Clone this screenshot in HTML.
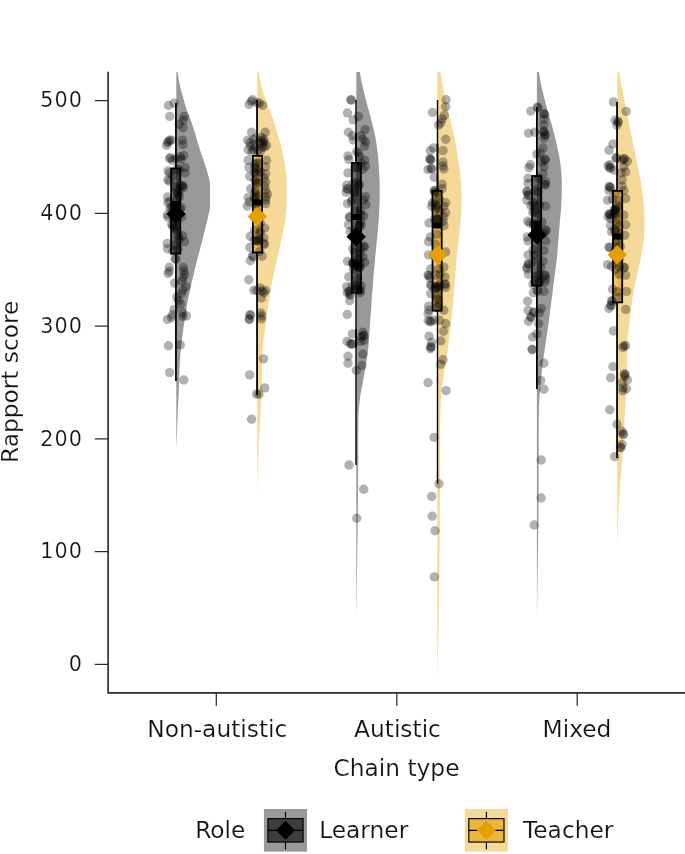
<!DOCTYPE html>
<html lang="en"><head><meta charset="utf-8"><title>Rapport score by chain type</title>
<style>html,body{margin:0;padding:0;background:#fff}svg{display:block}</style></head>
<body>
<svg width="685" height="854" viewBox="0 0 685 854">
<defs><clipPath id="pc"><rect x="108" y="71.8" width="577" height="621"/></clipPath></defs>
<rect width="685" height="854" fill="#fff"/>
<g clip-path="url(#pc)">
<path d="M176.3 72.0L177.6 72.0L177.7 73.0L177.8 74.0L178.0 75.0L178.1 76.0L178.3 77.0L178.5 78.0L178.6 79.0L178.8 80.0L179.0 81.0L179.2 82.0L179.4 83.0L179.6 84.0L179.8 85.0L180.1 86.0L180.3 87.0L180.5 88.0L180.8 89.0L181.0 90.0L181.3 91.0L181.6 92.0L181.8 93.0L182.1 94.0L182.4 95.0L182.7 96.0L182.9 97.0L183.2 98.0L183.5 99.0L183.8 100.0L184.1 101.0L184.4 102.0L184.6 103.0L184.9 104.0L185.2 105.0L185.5 106.0L185.9 107.0L186.2 108.0L186.5 109.0L186.8 110.0L187.2 111.0L187.6 112.0L187.9 113.0L188.3 114.0L188.7 115.0L189.1 116.0L189.5 117.0L189.9 118.0L190.3 119.0L190.7 120.0L191.0 121.0L191.4 122.0L191.7 123.0L192.1 124.0L192.4 125.0L192.8 126.0L193.1 127.0L193.4 128.0L193.7 129.0L194.0 130.0L194.3 131.0L194.7 132.0L195.0 133.0L195.3 134.0L195.6 135.0L195.9 136.0L196.2 137.0L196.5 138.0L196.7 139.0L197.0 140.0L197.3 141.0L197.6 142.0L197.9 143.0L198.2 144.0L198.5 145.0L198.8 146.0L199.1 147.0L199.4 148.0L199.7 149.0L200.0 150.0L200.4 151.0L200.7 152.0L201.1 153.0L201.4 154.0L201.8 155.0L202.1 156.0L202.5 157.0L202.8 158.0L203.1 159.0L203.5 160.0L203.8 161.0L204.1 162.0L204.5 163.0L204.8 164.0L205.1 165.0L205.4 166.0L205.7 167.0L206.1 168.0L206.4 169.0L206.7 170.0L207.0 171.0L207.3 172.0L207.6 173.0L207.9 174.0L208.1 175.0L208.4 176.0L208.6 177.0L208.9 178.0L209.2 179.0L209.4 180.0L209.6 181.0L209.8 182.0L209.9 183.0L210.0 184.0L210.0 185.0L210.0 186.0L210.0 187.0L210.0 188.0L210.0 189.0L210.0 190.0L210.0 191.0L210.0 192.0L210.0 193.0L210.0 194.0L210.0 195.0L210.0 196.0L210.0 197.0L210.0 198.0L210.0 199.0L210.0 200.0L210.0 201.0L210.0 202.0L210.0 203.0L210.0 204.0L210.0 205.0L210.0 206.0L210.0 207.0L209.9 208.0L209.7 209.0L209.6 210.0L209.4 211.0L209.1 212.0L208.9 213.0L208.7 214.0L208.5 215.0L208.2 216.0L208.0 217.0L207.8 218.0L207.5 219.0L207.3 220.0L207.1 221.0L206.8 222.0L206.6 223.0L206.4 224.0L206.1 225.0L205.9 226.0L205.6 227.0L205.4 228.0L205.1 229.0L204.9 230.0L204.6 231.0L204.3 232.0L204.1 233.0L203.8 234.0L203.6 235.0L203.3 236.0L203.1 237.0L202.8 238.0L202.6 239.0L202.3 240.0L202.1 241.0L201.8 242.0L201.6 243.0L201.3 244.0L201.1 245.0L200.8 246.0L200.5 247.0L200.3 248.0L200.0 249.0L199.8 250.0L199.5 251.0L199.2 252.0L199.0 253.0L198.7 254.0L198.4 255.0L198.2 256.0L197.9 257.0L197.6 258.0L197.4 259.0L197.1 260.0L196.9 261.0L196.6 262.0L196.4 263.0L196.1 264.0L195.9 265.0L195.6 266.0L195.4 267.0L195.2 268.0L194.9 269.0L194.7 270.0L194.4 271.0L194.2 272.0L194.0 273.0L193.7 274.0L193.5 275.0L193.2 276.0L193.0 277.0L192.8 278.0L192.5 279.0L192.3 280.0L192.1 281.0L191.8 282.0L191.6 283.0L191.4 284.0L191.2 285.0L190.9 286.0L190.7 287.0L190.5 288.0L190.3 289.0L190.0 290.0L189.8 291.0L189.6 292.0L189.4 293.0L189.2 294.0L189.0 295.0L188.7 296.0L188.5 297.0L188.3 298.0L188.1 299.0L187.9 300.0L187.8 301.0L187.6 302.0L187.4 303.0L187.2 304.0L187.0 305.0L186.8 306.0L186.6 307.0L186.5 308.0L186.3 309.0L186.1 310.0L186.0 311.0L185.8 312.0L185.6 313.0L185.5 314.0L185.3 315.0L185.2 316.0L185.0 317.0L184.9 318.0L184.7 319.0L184.6 320.0L184.4 321.0L184.3 322.0L184.2 323.0L184.0 324.0L183.9 325.0L183.7 326.0L183.6 327.0L183.4 328.0L183.3 329.0L183.2 330.0L183.0 331.0L182.9 332.0L182.8 333.0L182.7 334.0L182.5 335.0L182.4 336.0L182.3 337.0L182.2 338.0L182.1 339.0L181.9 340.0L181.8 341.0L181.7 342.0L181.6 343.0L181.5 344.0L181.4 345.0L181.3 346.0L181.2 347.0L181.1 348.0L181.0 349.0L180.9 350.0L180.8 351.0L180.6 352.0L180.5 353.0L180.4 354.0L180.3 355.0L180.3 356.0L180.2 357.0L180.1 358.0L180.0 359.0L180.0 360.0L179.9 361.0L179.8 362.0L179.8 363.0L179.7 364.0L179.7 365.0L179.6 366.0L179.6 367.0L179.5 368.0L179.5 369.0L179.5 370.0L179.4 371.0L179.4 372.0L179.3 373.0L179.3 374.0L179.3 375.0L179.3 376.0L179.2 377.0L179.2 378.0L179.2 379.0L179.1 380.0L179.1 381.0L179.1 382.0L179.0 383.0L179.0 384.0L179.0 385.0L178.9 386.0L178.9 387.0L178.8 388.0L178.8 389.0L178.8 390.0L178.7 391.0L178.7 392.0L178.6 393.0L178.6 394.0L178.5 395.0L178.5 396.0L178.5 397.0L178.4 398.0L178.4 399.0L178.3 400.0L178.3 401.0L178.2 402.0L178.2 403.0L178.1 404.0L178.1 405.0L178.0 406.0L178.0 407.0L177.9 408.0L177.9 409.0L177.9 410.0L177.8 411.0L177.8 412.0L177.7 413.0L177.7 414.0L177.7 415.0L177.6 416.0L177.6 417.0L177.6 418.0L177.5 419.0L177.5 420.0L177.4 421.0L177.4 422.0L177.4 423.0L177.3 424.0L177.3 425.0L177.3 426.0L177.2 427.0L177.2 428.0L177.1 429.0L177.1 430.0L177.1 431.0L177.0 432.0L177.0 433.0L176.9 434.0L176.9 435.0L176.9 436.0L176.8 437.0L176.8 438.0L176.7 439.0L176.7 440.0L176.6 441.0L176.6 442.0L176.6 443.0L176.5 444.0L176.5 445.0L176.4 446.0L176.4 447.0L176.3 448.0L176.3 448.0Z" fill="#000000" fill-opacity="0.4"/>
<path d="M257.3 72.0L258.8 72.0L258.9 73.0L259.0 74.0L259.2 75.0L259.3 76.0L259.5 77.0L259.7 78.0L259.8 79.0L260.0 80.0L260.2 81.0L260.4 82.0L260.6 83.0L260.8 84.0L261.1 85.0L261.3 86.0L261.5 87.0L261.8 88.0L262.1 89.0L262.4 90.0L262.7 91.0L263.0 92.0L263.3 93.0L263.6 94.0L264.0 95.0L264.3 96.0L264.6 97.0L265.0 98.0L265.3 99.0L265.7 100.0L266.1 101.0L266.5 102.0L266.9 103.0L267.3 104.0L267.7 105.0L268.1 106.0L268.5 107.0L268.9 108.0L269.3 109.0L269.6 110.0L270.0 111.0L270.4 112.0L270.8 113.0L271.1 114.0L271.5 115.0L271.8 116.0L272.2 117.0L272.5 118.0L272.9 119.0L273.2 120.0L273.6 121.0L273.9 122.0L274.2 123.0L274.5 124.0L274.8 125.0L275.1 126.0L275.4 127.0L275.7 128.0L276.0 129.0L276.3 130.0L276.6 131.0L276.9 132.0L277.2 133.0L277.5 134.0L277.8 135.0L278.1 136.0L278.4 137.0L278.7 138.0L279.0 139.0L279.3 140.0L279.7 141.0L280.0 142.0L280.3 143.0L280.6 144.0L280.8 145.0L281.1 146.0L281.3 147.0L281.6 148.0L281.8 149.0L282.0 150.0L282.2 151.0L282.4 152.0L282.6 153.0L282.8 154.0L283.0 155.0L283.2 156.0L283.4 157.0L283.6 158.0L283.8 159.0L283.9 160.0L284.1 161.0L284.3 162.0L284.5 163.0L284.7 164.0L284.8 165.0L285.0 166.0L285.2 167.0L285.3 168.0L285.5 169.0L285.6 170.0L285.7 171.0L285.8 172.0L286.0 173.0L286.1 174.0L286.2 175.0L286.3 176.0L286.4 177.0L286.5 178.0L286.6 179.0L286.6 180.0L286.7 181.0L286.8 182.0L286.8 183.0L286.8 184.0L286.8 185.0L286.8 186.0L286.8 187.0L286.8 188.0L286.8 189.0L286.8 190.0L286.8 191.0L286.8 192.0L286.8 193.0L286.8 194.0L286.8 195.0L286.8 196.0L286.8 197.0L286.8 198.0L286.8 199.0L286.7 200.0L286.7 201.0L286.7 202.0L286.6 203.0L286.6 204.0L286.5 205.0L286.5 206.0L286.4 207.0L286.4 208.0L286.3 209.0L286.2 210.0L286.2 211.0L286.1 212.0L286.0 213.0L285.9 214.0L285.8 215.0L285.7 216.0L285.6 217.0L285.5 218.0L285.4 219.0L285.3 220.0L285.1 221.0L285.0 222.0L284.8 223.0L284.7 224.0L284.5 225.0L284.3 226.0L284.1 227.0L283.8 228.0L283.6 229.0L283.4 230.0L283.2 231.0L283.0 232.0L282.7 233.0L282.5 234.0L282.3 235.0L282.1 236.0L281.9 237.0L281.7 238.0L281.5 239.0L281.3 240.0L281.1 241.0L280.9 242.0L280.7 243.0L280.5 244.0L280.3 245.0L280.1 246.0L279.9 247.0L279.6 248.0L279.4 249.0L279.2 250.0L278.9 251.0L278.7 252.0L278.4 253.0L278.2 254.0L277.9 255.0L277.7 256.0L277.4 257.0L277.2 258.0L277.0 259.0L276.8 260.0L276.6 261.0L276.3 262.0L276.1 263.0L275.9 264.0L275.7 265.0L275.5 266.0L275.3 267.0L275.1 268.0L274.9 269.0L274.7 270.0L274.5 271.0L274.3 272.0L274.1 273.0L273.8 274.0L273.6 275.0L273.4 276.0L273.2 277.0L272.9 278.0L272.7 279.0L272.5 280.0L272.3 281.0L272.1 282.0L271.9 283.0L271.7 284.0L271.5 285.0L271.3 286.0L271.1 287.0L270.9 288.0L270.8 289.0L270.6 290.0L270.5 291.0L270.3 292.0L270.1 293.0L270.0 294.0L269.8 295.0L269.7 296.0L269.5 297.0L269.4 298.0L269.2 299.0L269.1 300.0L268.9 301.0L268.7 302.0L268.6 303.0L268.4 304.0L268.3 305.0L268.1 306.0L268.0 307.0L267.8 308.0L267.7 309.0L267.5 310.0L267.4 311.0L267.3 312.0L267.1 313.0L267.0 314.0L266.8 315.0L266.7 316.0L266.6 317.0L266.4 318.0L266.3 319.0L266.2 320.0L266.0 321.0L265.9 322.0L265.8 323.0L265.6 324.0L265.5 325.0L265.4 326.0L265.2 327.0L265.1 328.0L265.0 329.0L264.9 330.0L264.7 331.0L264.6 332.0L264.5 333.0L264.4 334.0L264.2 335.0L264.1 336.0L263.9 337.0L263.8 338.0L263.7 339.0L263.5 340.0L263.4 341.0L263.2 342.0L263.1 343.0L263.0 344.0L262.9 345.0L262.8 346.0L262.7 347.0L262.6 348.0L262.5 349.0L262.5 350.0L262.4 351.0L262.3 352.0L262.3 353.0L262.2 354.0L262.2 355.0L262.1 356.0L262.1 357.0L262.0 358.0L262.0 359.0L262.0 360.0L262.0 361.0L261.9 362.0L261.9 363.0L261.9 364.0L261.9 365.0L261.9 366.0L261.8 367.0L261.8 368.0L261.8 369.0L261.8 370.0L261.8 371.0L261.8 372.0L261.8 373.0L261.8 374.0L261.8 375.0L261.8 376.0L261.8 377.0L261.8 378.0L261.8 379.0L261.8 380.0L261.8 381.0L261.8 382.0L261.8 383.0L261.8 384.0L261.8 385.0L261.8 386.0L261.8 387.0L261.8 388.0L261.7 389.0L261.7 390.0L261.7 391.0L261.6 392.0L261.6 393.0L261.6 394.0L261.6 395.0L261.5 396.0L261.5 397.0L261.4 398.0L261.4 399.0L261.3 400.0L261.3 401.0L261.2 402.0L261.2 403.0L261.1 404.0L261.0 405.0L261.0 406.0L260.9 407.0L260.9 408.0L260.8 409.0L260.7 410.0L260.7 411.0L260.6 412.0L260.6 413.0L260.5 414.0L260.5 415.0L260.4 416.0L260.3 417.0L260.3 418.0L260.2 419.0L260.2 420.0L260.1 421.0L260.0 422.0L260.0 423.0L259.9 424.0L259.9 425.0L259.8 426.0L259.7 427.0L259.7 428.0L259.6 429.0L259.5 430.0L259.5 431.0L259.4 432.0L259.4 433.0L259.3 434.0L259.2 435.0L259.2 436.0L259.1 437.0L259.1 438.0L259.0 439.0L259.0 440.0L258.9 441.0L258.9 442.0L258.8 443.0L258.8 444.0L258.7 445.0L258.7 446.0L258.6 447.0L258.6 448.0L258.5 449.0L258.5 450.0L258.5 451.0L258.4 452.0L258.4 453.0L258.3 454.0L258.3 455.0L258.3 456.0L258.2 457.0L258.2 458.0L258.2 459.0L258.1 460.0L258.1 461.0L258.1 462.0L258.0 463.0L258.0 464.0L258.0 465.0L257.9 466.0L257.9 467.0L257.9 468.0L257.9 469.0L257.8 470.0L257.8 471.0L257.8 472.0L257.8 473.0L257.7 474.0L257.7 475.0L257.7 476.0L257.7 477.0L257.6 478.0L257.6 479.0L257.6 480.0L257.6 481.0L257.6 482.0L257.5 483.0L257.5 484.0L257.5 485.0L257.5 486.0L257.5 487.0L257.4 488.0L257.4 489.0L257.4 490.0L257.4 491.0L257.4 492.0L257.4 493.0L257.3 494.0L257.3 495.0L257.3 496.0L257.3 497.0L257.3 498.0L257.3 498.0Z" fill="#E69F00" fill-opacity="0.4"/>
<path d="M356.3 72.0L359.9 72.0L360.0 73.0L360.2 74.0L360.3 75.0L360.5 76.0L360.7 77.0L360.9 78.0L361.1 79.0L361.3 80.0L361.5 81.0L361.7 82.0L361.9 83.0L362.1 84.0L362.3 85.0L362.6 86.0L362.8 87.0L363.0 88.0L363.2 89.0L363.5 90.0L363.7 91.0L363.9 92.0L364.2 93.0L364.4 94.0L364.7 95.0L364.9 96.0L365.2 97.0L365.4 98.0L365.7 99.0L365.9 100.0L366.2 101.0L366.4 102.0L366.7 103.0L367.0 104.0L367.3 105.0L367.5 106.0L367.8 107.0L368.1 108.0L368.3 109.0L368.6 110.0L368.9 111.0L369.1 112.0L369.4 113.0L369.7 114.0L370.0 115.0L370.2 116.0L370.5 117.0L370.8 118.0L371.0 119.0L371.3 120.0L371.5 121.0L371.8 122.0L372.1 123.0L372.3 124.0L372.6 125.0L372.8 126.0L373.1 127.0L373.3 128.0L373.6 129.0L373.8 130.0L374.1 131.0L374.3 132.0L374.5 133.0L374.7 134.0L374.9 135.0L375.1 136.0L375.3 137.0L375.5 138.0L375.7 139.0L375.8 140.0L376.0 141.0L376.2 142.0L376.3 143.0L376.5 144.0L376.6 145.0L376.8 146.0L376.9 147.0L377.1 148.0L377.2 149.0L377.3 150.0L377.4 151.0L377.6 152.0L377.7 153.0L377.8 154.0L377.9 155.0L378.0 156.0L378.1 157.0L378.2 158.0L378.3 159.0L378.4 160.0L378.4 161.0L378.5 162.0L378.6 163.0L378.7 164.0L378.7 165.0L378.8 166.0L378.8 167.0L378.9 168.0L379.0 169.0L379.0 170.0L379.1 171.0L379.1 172.0L379.2 173.0L379.2 174.0L379.3 175.0L379.4 176.0L379.4 177.0L379.5 178.0L379.5 179.0L379.6 180.0L379.6 181.0L379.7 182.0L379.7 183.0L379.7 184.0L379.7 185.0L379.7 186.0L379.7 187.0L379.7 188.0L379.7 189.0L379.7 190.0L379.7 191.0L379.7 192.0L379.7 193.0L379.7 194.0L379.7 195.0L379.7 196.0L379.7 197.0L379.7 198.0L379.7 199.0L379.6 200.0L379.6 201.0L379.6 202.0L379.6 203.0L379.5 204.0L379.5 205.0L379.4 206.0L379.4 207.0L379.3 208.0L379.3 209.0L379.3 210.0L379.2 211.0L379.2 212.0L379.1 213.0L379.1 214.0L379.0 215.0L378.9 216.0L378.9 217.0L378.8 218.0L378.8 219.0L378.7 220.0L378.6 221.0L378.5 222.0L378.5 223.0L378.4 224.0L378.3 225.0L378.2 226.0L378.1 227.0L378.0 228.0L377.9 229.0L377.9 230.0L377.8 231.0L377.7 232.0L377.6 233.0L377.5 234.0L377.4 235.0L377.3 236.0L377.2 237.0L377.1 238.0L377.0 239.0L376.9 240.0L376.8 241.0L376.7 242.0L376.6 243.0L376.5 244.0L376.4 245.0L376.3 246.0L376.2 247.0L376.1 248.0L376.0 249.0L375.9 250.0L375.8 251.0L375.7 252.0L375.6 253.0L375.5 254.0L375.4 255.0L375.3 256.0L375.2 257.0L375.1 258.0L375.1 259.0L375.0 260.0L374.9 261.0L374.8 262.0L374.7 263.0L374.6 264.0L374.5 265.0L374.4 266.0L374.3 267.0L374.2 268.0L374.1 269.0L374.0 270.0L373.9 271.0L373.8 272.0L373.7 273.0L373.7 274.0L373.6 275.0L373.5 276.0L373.5 277.0L373.4 278.0L373.3 279.0L373.2 280.0L373.2 281.0L373.1 282.0L373.0 283.0L373.0 284.0L372.9 285.0L372.8 286.0L372.7 287.0L372.6 288.0L372.6 289.0L372.5 290.0L372.4 291.0L372.3 292.0L372.2 293.0L372.1 294.0L372.1 295.0L372.0 296.0L371.9 297.0L371.8 298.0L371.8 299.0L371.7 300.0L371.6 301.0L371.6 302.0L371.5 303.0L371.5 304.0L371.4 305.0L371.3 306.0L371.3 307.0L371.2 308.0L371.1 309.0L371.1 310.0L371.0 311.0L370.9 312.0L370.8 313.0L370.8 314.0L370.7 315.0L370.6 316.0L370.5 317.0L370.4 318.0L370.3 319.0L370.3 320.0L370.2 321.0L370.1 322.0L370.0 323.0L370.0 324.0L369.9 325.0L369.8 326.0L369.8 327.0L369.7 328.0L369.7 329.0L369.6 330.0L369.5 331.0L369.5 332.0L369.4 333.0L369.3 334.0L369.3 335.0L369.2 336.0L369.1 337.0L369.0 338.0L369.0 339.0L368.9 340.0L368.8 341.0L368.7 342.0L368.6 343.0L368.6 344.0L368.5 345.0L368.4 346.0L368.3 347.0L368.2 348.0L368.1 349.0L367.9 350.0L367.8 351.0L367.7 352.0L367.6 353.0L367.4 354.0L367.3 355.0L367.2 356.0L367.0 357.0L366.9 358.0L366.7 359.0L366.6 360.0L366.4 361.0L366.3 362.0L366.1 363.0L366.0 364.0L365.8 365.0L365.6 366.0L365.5 367.0L365.3 368.0L365.1 369.0L365.0 370.0L364.8 371.0L364.6 372.0L364.5 373.0L364.3 374.0L364.1 375.0L363.9 376.0L363.8 377.0L363.6 378.0L363.4 379.0L363.2 380.0L363.0 381.0L362.9 382.0L362.7 383.0L362.5 384.0L362.3 385.0L362.1 386.0L361.9 387.0L361.7 388.0L361.5 389.0L361.3 390.0L361.1 391.0L360.9 392.0L360.8 393.0L360.6 394.0L360.4 395.0L360.3 396.0L360.1 397.0L360.0 398.0L359.9 399.0L359.8 400.0L359.6 401.0L359.5 402.0L359.4 403.0L359.3 404.0L359.2 405.0L359.1 406.0L359.0 407.0L359.0 408.0L358.9 409.0L358.8 410.0L358.8 411.0L358.7 412.0L358.6 413.0L358.6 414.0L358.5 415.0L358.5 416.0L358.4 417.0L358.4 418.0L358.4 419.0L358.3 420.0L358.3 421.0L358.3 422.0L358.3 423.0L358.3 424.0L358.3 425.0L358.3 426.0L358.3 427.0L358.2 428.0L358.2 429.0L358.2 430.0L358.2 431.0L358.2 432.0L358.2 433.0L358.2 434.0L358.2 435.0L358.2 436.0L358.2 437.0L358.2 438.0L358.2 439.0L358.2 440.0L358.2 441.0L358.2 442.0L358.2 443.0L358.2 444.0L358.2 445.0L358.2 446.0L358.2 447.0L358.2 448.0L358.2 449.0L358.2 450.0L358.2 451.0L358.2 452.0L358.2 453.0L358.2 454.0L358.2 455.0L358.2 456.0L358.2 457.0L358.2 458.0L358.2 459.0L358.2 460.0L358.2 461.0L358.2 462.0L358.2 463.0L358.2 464.0L358.1 465.0L358.1 466.0L358.1 467.0L358.1 468.0L358.1 469.0L358.1 470.0L358.1 471.0L358.1 472.0L358.1 473.0L358.1 474.0L358.1 475.0L358.1 476.0L358.1 477.0L358.1 478.0L358.1 479.0L358.1 480.0L358.1 481.0L358.1 482.0L358.1 483.0L358.1 484.0L358.1 485.0L358.1 486.0L358.1 487.0L358.1 488.0L358.1 489.0L358.1 490.0L358.1 491.0L358.1 492.0L358.0 493.0L358.0 494.0L358.0 495.0L358.0 496.0L358.0 497.0L358.0 498.0L358.0 499.0L358.0 500.0L358.0 501.0L358.0 502.0L357.9 503.0L357.9 504.0L357.9 505.0L357.9 506.0L357.9 507.0L357.9 508.0L357.9 509.0L357.9 510.0L357.8 511.0L357.8 512.0L357.8 513.0L357.8 514.0L357.8 515.0L357.8 516.0L357.8 517.0L357.7 518.0L357.7 519.0L357.7 520.0L357.7 521.0L357.7 522.0L357.7 523.0L357.7 524.0L357.7 525.0L357.7 526.0L357.6 527.0L357.6 528.0L357.6 529.0L357.6 530.0L357.6 531.0L357.6 532.0L357.6 533.0L357.6 534.0L357.5 535.0L357.5 536.0L357.5 537.0L357.5 538.0L357.5 539.0L357.5 540.0L357.5 541.0L357.4 542.0L357.4 543.0L357.4 544.0L357.4 545.0L357.4 546.0L357.4 547.0L357.4 548.0L357.4 549.0L357.3 550.0L357.3 551.0L357.3 552.0L357.3 553.0L357.3 554.0L357.3 555.0L357.3 556.0L357.2 557.0L357.2 558.0L357.2 559.0L357.2 560.0L357.2 561.0L357.2 562.0L357.2 563.0L357.1 564.0L357.1 565.0L357.1 566.0L357.1 567.0L357.1 568.0L357.1 569.0L357.1 570.0L357.0 571.0L357.0 572.0L357.0 573.0L357.0 574.0L357.0 575.0L357.0 576.0L357.0 577.0L356.9 578.0L356.9 579.0L356.9 580.0L356.9 581.0L356.9 582.0L356.9 583.0L356.8 584.0L356.8 585.0L356.8 586.0L356.8 587.0L356.8 588.0L356.8 589.0L356.7 590.0L356.7 591.0L356.7 592.0L356.7 593.0L356.7 594.0L356.7 595.0L356.7 596.0L356.6 597.0L356.6 598.0L356.6 599.0L356.6 600.0L356.6 601.0L356.5 602.0L356.5 603.0L356.5 604.0L356.5 605.0L356.5 606.0L356.5 607.0L356.4 608.0L356.4 609.0L356.4 610.0L356.4 611.0L356.4 612.0L356.4 613.0L356.3 614.0L356.3 615.0L356.3 616.0L356.3 616.0Z" fill="#000000" fill-opacity="0.4"/>
<path d="M437.3 72.0L440.5 72.0L440.6 73.0L440.8 74.0L440.9 75.0L441.1 76.0L441.2 77.0L441.4 78.0L441.5 79.0L441.7 80.0L441.9 81.0L442.0 82.0L442.2 83.0L442.4 84.0L442.5 85.0L442.7 86.0L442.9 87.0L443.1 88.0L443.3 89.0L443.5 90.0L443.7 91.0L443.9 92.0L444.1 93.0L444.3 94.0L444.5 95.0L444.7 96.0L445.0 97.0L445.2 98.0L445.4 99.0L445.6 100.0L445.9 101.0L446.1 102.0L446.4 103.0L446.6 104.0L446.9 105.0L447.1 106.0L447.4 107.0L447.6 108.0L447.9 109.0L448.1 110.0L448.3 111.0L448.5 112.0L448.8 113.0L449.0 114.0L449.2 115.0L449.4 116.0L449.6 117.0L449.8 118.0L450.0 119.0L450.3 120.0L450.5 121.0L450.7 122.0L450.9 123.0L451.2 124.0L451.4 125.0L451.7 126.0L451.9 127.0L452.2 128.0L452.4 129.0L452.7 130.0L452.9 131.0L453.1 132.0L453.4 133.0L453.6 134.0L453.8 135.0L454.0 136.0L454.3 137.0L454.5 138.0L454.7 139.0L454.9 140.0L455.1 141.0L455.3 142.0L455.5 143.0L455.7 144.0L455.9 145.0L456.1 146.0L456.2 147.0L456.4 148.0L456.6 149.0L456.7 150.0L456.9 151.0L457.0 152.0L457.2 153.0L457.3 154.0L457.5 155.0L457.6 156.0L457.8 157.0L457.9 158.0L458.1 159.0L458.2 160.0L458.4 161.0L458.5 162.0L458.7 163.0L458.8 164.0L459.0 165.0L459.1 166.0L459.3 167.0L459.4 168.0L459.6 169.0L459.7 170.0L459.8 171.0L459.9 172.0L460.1 173.0L460.2 174.0L460.3 175.0L460.4 176.0L460.5 177.0L460.6 178.0L460.7 179.0L460.8 180.0L460.9 181.0L461.0 182.0L461.0 183.0L461.1 184.0L461.2 185.0L461.2 186.0L461.3 187.0L461.3 188.0L461.4 189.0L461.4 190.0L461.5 191.0L461.5 192.0L461.5 193.0L461.6 194.0L461.6 195.0L461.6 196.0L461.6 197.0L461.6 198.0L461.6 199.0L461.6 200.0L461.5 201.0L461.5 202.0L461.5 203.0L461.5 204.0L461.4 205.0L461.4 206.0L461.4 207.0L461.3 208.0L461.3 209.0L461.3 210.0L461.2 211.0L461.2 212.0L461.1 213.0L461.0 214.0L461.0 215.0L460.9 216.0L460.8 217.0L460.8 218.0L460.7 219.0L460.6 220.0L460.5 221.0L460.4 222.0L460.4 223.0L460.3 224.0L460.2 225.0L460.1 226.0L460.0 227.0L459.9 228.0L459.8 229.0L459.7 230.0L459.6 231.0L459.5 232.0L459.4 233.0L459.3 234.0L459.2 235.0L459.0 236.0L458.9 237.0L458.8 238.0L458.7 239.0L458.6 240.0L458.5 241.0L458.4 242.0L458.2 243.0L458.1 244.0L458.0 245.0L457.9 246.0L457.8 247.0L457.7 248.0L457.6 249.0L457.5 250.0L457.4 251.0L457.3 252.0L457.2 253.0L457.1 254.0L457.0 255.0L456.9 256.0L456.8 257.0L456.7 258.0L456.7 259.0L456.6 260.0L456.5 261.0L456.4 262.0L456.3 263.0L456.3 264.0L456.2 265.0L456.1 266.0L456.0 267.0L455.9 268.0L455.9 269.0L455.8 270.0L455.7 271.0L455.6 272.0L455.5 273.0L455.4 274.0L455.4 275.0L455.3 276.0L455.2 277.0L455.1 278.0L455.0 279.0L454.9 280.0L454.8 281.0L454.7 282.0L454.7 283.0L454.6 284.0L454.5 285.0L454.4 286.0L454.3 287.0L454.2 288.0L454.2 289.0L454.1 290.0L454.0 291.0L453.9 292.0L453.8 293.0L453.8 294.0L453.7 295.0L453.6 296.0L453.5 297.0L453.4 298.0L453.3 299.0L453.2 300.0L453.1 301.0L453.1 302.0L453.0 303.0L452.9 304.0L452.8 305.0L452.7 306.0L452.6 307.0L452.5 308.0L452.4 309.0L452.3 310.0L452.2 311.0L452.1 312.0L452.0 313.0L451.9 314.0L451.8 315.0L451.7 316.0L451.6 317.0L451.5 318.0L451.4 319.0L451.3 320.0L451.2 321.0L451.1 322.0L451.0 323.0L450.9 324.0L450.8 325.0L450.7 326.0L450.6 327.0L450.4 328.0L450.3 329.0L450.2 330.0L450.1 331.0L450.0 332.0L449.9 333.0L449.7 334.0L449.6 335.0L449.5 336.0L449.4 337.0L449.3 338.0L449.1 339.0L449.0 340.0L448.9 341.0L448.7 342.0L448.6 343.0L448.5 344.0L448.3 345.0L448.2 346.0L448.1 347.0L447.9 348.0L447.8 349.0L447.7 350.0L447.5 351.0L447.4 352.0L447.2 353.0L447.1 354.0L446.9 355.0L446.8 356.0L446.6 357.0L446.5 358.0L446.3 359.0L446.2 360.0L446.0 361.0L445.9 362.0L445.7 363.0L445.5 364.0L445.4 365.0L445.2 366.0L445.0 367.0L444.9 368.0L444.7 369.0L444.6 370.0L444.4 371.0L444.2 372.0L444.1 373.0L443.9 374.0L443.8 375.0L443.6 376.0L443.5 377.0L443.3 378.0L443.2 379.0L443.0 380.0L442.9 381.0L442.8 382.0L442.6 383.0L442.5 384.0L442.4 385.0L442.3 386.0L442.1 387.0L442.0 388.0L441.9 389.0L441.8 390.0L441.7 391.0L441.6 392.0L441.5 393.0L441.4 394.0L441.3 395.0L441.2 396.0L441.2 397.0L441.1 398.0L441.0 399.0L441.0 400.0L440.9 401.0L440.8 402.0L440.8 403.0L440.7 404.0L440.7 405.0L440.6 406.0L440.6 407.0L440.5 408.0L440.5 409.0L440.5 410.0L440.4 411.0L440.4 412.0L440.3 413.0L440.3 414.0L440.3 415.0L440.2 416.0L440.2 417.0L440.2 418.0L440.2 419.0L440.1 420.0L440.1 421.0L440.1 422.0L440.1 423.0L440.0 424.0L440.0 425.0L440.0 426.0L440.0 427.0L440.0 428.0L439.9 429.0L439.9 430.0L439.9 431.0L439.9 432.0L439.9 433.0L439.9 434.0L439.9 435.0L439.9 436.0L439.9 437.0L439.9 438.0L439.9 439.0L439.9 440.0L439.9 441.0L439.9 442.0L439.9 443.0L439.9 444.0L439.9 445.0L439.9 446.0L439.9 447.0L439.9 448.0L439.9 449.0L439.9 450.0L439.9 451.0L439.9 452.0L439.9 453.0L439.9 454.0L439.9 455.0L439.9 456.0L439.9 457.0L439.9 458.0L439.9 459.0L439.9 460.0L439.9 461.0L439.9 462.0L439.9 463.0L439.9 464.0L439.9 465.0L439.9 466.0L439.9 467.0L439.9 468.0L439.9 469.0L439.9 470.0L439.9 471.0L439.9 472.0L439.9 473.0L439.9 474.0L439.9 475.0L439.9 476.0L439.9 477.0L439.9 478.0L439.9 479.0L439.9 480.0L439.9 481.0L439.9 482.0L439.9 483.0L439.9 484.0L439.9 485.0L439.9 486.0L439.9 487.0L439.9 488.0L439.9 489.0L439.9 490.0L439.9 491.0L439.9 492.0L439.9 493.0L439.9 494.0L439.9 495.0L439.9 496.0L439.9 497.0L439.9 498.0L439.9 499.0L439.9 500.0L439.9 501.0L439.9 502.0L439.9 503.0L439.9 504.0L439.9 505.0L439.9 506.0L439.8 507.0L439.8 508.0L439.8 509.0L439.8 510.0L439.8 511.0L439.8 512.0L439.8 513.0L439.8 514.0L439.8 515.0L439.8 516.0L439.8 517.0L439.8 518.0L439.8 519.0L439.8 520.0L439.8 521.0L439.8 522.0L439.8 523.0L439.8 524.0L439.8 525.0L439.8 526.0L439.7 527.0L439.7 528.0L439.7 529.0L439.7 530.0L439.7 531.0L439.7 532.0L439.7 533.0L439.7 534.0L439.7 535.0L439.7 536.0L439.7 537.0L439.7 538.0L439.7 539.0L439.7 540.0L439.7 541.0L439.7 542.0L439.6 543.0L439.6 544.0L439.6 545.0L439.6 546.0L439.6 547.0L439.6 548.0L439.6 549.0L439.6 550.0L439.6 551.0L439.6 552.0L439.6 553.0L439.5 554.0L439.5 555.0L439.5 556.0L439.5 557.0L439.5 558.0L439.5 559.0L439.5 560.0L439.5 561.0L439.5 562.0L439.5 563.0L439.4 564.0L439.4 565.0L439.4 566.0L439.4 567.0L439.4 568.0L439.4 569.0L439.4 570.0L439.4 571.0L439.3 572.0L439.3 573.0L439.3 574.0L439.3 575.0L439.3 576.0L439.3 577.0L439.3 578.0L439.3 579.0L439.2 580.0L439.2 581.0L439.2 582.0L439.2 583.0L439.2 584.0L439.2 585.0L439.2 586.0L439.2 587.0L439.1 588.0L439.1 589.0L439.1 590.0L439.1 591.0L439.1 592.0L439.1 593.0L439.1 594.0L439.1 595.0L439.0 596.0L439.0 597.0L439.0 598.0L439.0 599.0L439.0 600.0L439.0 601.0L439.0 602.0L438.9 603.0L438.9 604.0L438.9 605.0L438.9 606.0L438.9 607.0L438.9 608.0L438.8 609.0L438.8 610.0L438.8 611.0L438.8 612.0L438.8 613.0L438.8 614.0L438.7 615.0L438.7 616.0L438.7 617.0L438.7 618.0L438.7 619.0L438.7 620.0L438.6 621.0L438.6 622.0L438.6 623.0L438.6 624.0L438.6 625.0L438.6 626.0L438.5 627.0L438.5 628.0L438.5 629.0L438.5 630.0L438.5 631.0L438.4 632.0L438.4 633.0L438.4 634.0L438.4 635.0L438.4 636.0L438.3 637.0L438.3 638.0L438.3 639.0L438.3 640.0L438.3 641.0L438.2 642.0L438.2 643.0L438.2 644.0L438.2 645.0L438.1 646.0L438.1 647.0L438.1 648.0L438.1 649.0L438.1 650.0L438.0 651.0L438.0 652.0L438.0 653.0L438.0 654.0L437.9 655.0L437.9 656.0L437.9 657.0L437.9 658.0L437.8 659.0L437.8 660.0L437.8 661.0L437.7 662.0L437.7 663.0L437.7 664.0L437.7 665.0L437.6 666.0L437.6 667.0L437.6 668.0L437.5 669.0L437.5 670.0L437.5 671.0L437.4 672.0L437.4 673.0L437.4 674.0L437.3 675.0L437.3 676.0L437.3 676.0Z" fill="#E69F00" fill-opacity="0.4"/>
<path d="M536.9 72.0L539.0 72.0L539.1 73.0L539.2 74.0L539.3 75.0L539.5 76.0L539.7 77.0L539.8 78.0L540.0 79.0L540.2 80.0L540.4 81.0L540.6 82.0L540.7 83.0L540.9 84.0L541.1 85.0L541.4 86.0L541.6 87.0L541.8 88.0L542.0 89.0L542.3 90.0L542.5 91.0L542.8 92.0L543.0 93.0L543.3 94.0L543.5 95.0L543.8 96.0L544.0 97.0L544.3 98.0L544.5 99.0L544.8 100.0L545.1 101.0L545.3 102.0L545.6 103.0L545.8 104.0L546.1 105.0L546.3 106.0L546.6 107.0L546.9 108.0L547.1 109.0L547.4 110.0L547.7 111.0L548.0 112.0L548.3 113.0L548.6 114.0L548.9 115.0L549.2 116.0L549.5 117.0L549.8 118.0L550.1 119.0L550.4 120.0L550.7 121.0L551.0 122.0L551.3 123.0L551.6 124.0L551.8 125.0L552.1 126.0L552.4 127.0L552.6 128.0L552.9 129.0L553.2 130.0L553.4 131.0L553.7 132.0L553.9 133.0L554.2 134.0L554.4 135.0L554.7 136.0L554.9 137.0L555.2 138.0L555.4 139.0L555.7 140.0L555.9 141.0L556.1 142.0L556.4 143.0L556.6 144.0L556.8 145.0L557.0 146.0L557.2 147.0L557.5 148.0L557.7 149.0L557.9 150.0L558.1 151.0L558.3 152.0L558.5 153.0L558.8 154.0L559.0 155.0L559.1 156.0L559.3 157.0L559.5 158.0L559.7 159.0L559.8 160.0L560.0 161.0L560.1 162.0L560.3 163.0L560.4 164.0L560.5 165.0L560.6 166.0L560.8 167.0L560.9 168.0L561.0 169.0L561.1 170.0L561.2 171.0L561.2 172.0L561.3 173.0L561.4 174.0L561.4 175.0L561.5 176.0L561.6 177.0L561.6 178.0L561.7 179.0L561.7 180.0L561.7 181.0L561.8 182.0L561.8 183.0L561.8 184.0L561.8 185.0L561.8 186.0L561.8 187.0L561.8 188.0L561.8 189.0L561.7 190.0L561.7 191.0L561.7 192.0L561.7 193.0L561.7 194.0L561.6 195.0L561.6 196.0L561.6 197.0L561.6 198.0L561.5 199.0L561.5 200.0L561.4 201.0L561.4 202.0L561.3 203.0L561.3 204.0L561.2 205.0L561.2 206.0L561.1 207.0L561.1 208.0L561.0 209.0L560.9 210.0L560.8 211.0L560.8 212.0L560.7 213.0L560.6 214.0L560.5 215.0L560.4 216.0L560.3 217.0L560.2 218.0L560.1 219.0L560.0 220.0L559.9 221.0L559.8 222.0L559.8 223.0L559.7 224.0L559.6 225.0L559.5 226.0L559.4 227.0L559.4 228.0L559.3 229.0L559.2 230.0L559.1 231.0L559.0 232.0L559.0 233.0L558.9 234.0L558.8 235.0L558.7 236.0L558.6 237.0L558.6 238.0L558.5 239.0L558.4 240.0L558.3 241.0L558.2 242.0L558.2 243.0L558.1 244.0L558.0 245.0L557.9 246.0L557.8 247.0L557.8 248.0L557.7 249.0L557.6 250.0L557.5 251.0L557.5 252.0L557.4 253.0L557.3 254.0L557.2 255.0L557.1 256.0L557.0 257.0L556.9 258.0L556.8 259.0L556.7 260.0L556.6 261.0L556.5 262.0L556.4 263.0L556.2 264.0L556.1 265.0L556.0 266.0L555.8 267.0L555.7 268.0L555.6 269.0L555.4 270.0L555.3 271.0L555.2 272.0L555.0 273.0L554.9 274.0L554.8 275.0L554.6 276.0L554.5 277.0L554.4 278.0L554.3 279.0L554.1 280.0L554.0 281.0L553.9 282.0L553.7 283.0L553.6 284.0L553.5 285.0L553.3 286.0L553.2 287.0L553.1 288.0L553.0 289.0L552.8 290.0L552.7 291.0L552.6 292.0L552.4 293.0L552.3 294.0L552.2 295.0L552.1 296.0L551.9 297.0L551.8 298.0L551.7 299.0L551.5 300.0L551.4 301.0L551.3 302.0L551.2 303.0L551.0 304.0L550.9 305.0L550.8 306.0L550.6 307.0L550.5 308.0L550.4 309.0L550.2 310.0L550.1 311.0L550.0 312.0L549.9 313.0L549.7 314.0L549.6 315.0L549.5 316.0L549.4 317.0L549.2 318.0L549.1 319.0L549.0 320.0L548.8 321.0L548.7 322.0L548.6 323.0L548.4 324.0L548.3 325.0L548.1 326.0L548.0 327.0L547.8 328.0L547.7 329.0L547.5 330.0L547.4 331.0L547.3 332.0L547.1 333.0L547.0 334.0L546.8 335.0L546.7 336.0L546.5 337.0L546.4 338.0L546.2 339.0L546.1 340.0L545.9 341.0L545.8 342.0L545.7 343.0L545.5 344.0L545.4 345.0L545.2 346.0L545.1 347.0L544.9 348.0L544.8 349.0L544.6 350.0L544.5 351.0L544.3 352.0L544.2 353.0L544.0 354.0L543.9 355.0L543.8 356.0L543.6 357.0L543.5 358.0L543.3 359.0L543.2 360.0L543.0 361.0L542.9 362.0L542.8 363.0L542.6 364.0L542.5 365.0L542.4 366.0L542.2 367.0L542.1 368.0L542.0 369.0L541.9 370.0L541.8 371.0L541.7 372.0L541.6 373.0L541.5 374.0L541.4 375.0L541.4 376.0L541.3 377.0L541.2 378.0L541.2 379.0L541.1 380.0L541.0 381.0L541.0 382.0L540.9 383.0L540.8 384.0L540.7 385.0L540.6 386.0L540.5 387.0L540.4 388.0L540.3 389.0L540.1 390.0L540.0 391.0L539.9 392.0L539.8 393.0L539.7 394.0L539.6 395.0L539.5 396.0L539.5 397.0L539.4 398.0L539.3 399.0L539.3 400.0L539.2 401.0L539.2 402.0L539.1 403.0L539.1 404.0L539.0 405.0L539.0 406.0L538.9 407.0L538.9 408.0L538.9 409.0L538.9 410.0L538.9 411.0L538.9 412.0L538.9 413.0L538.8 414.0L538.8 415.0L538.8 416.0L538.8 417.0L538.8 418.0L538.8 419.0L538.8 420.0L538.8 421.0L538.8 422.0L538.8 423.0L538.8 424.0L538.8 425.0L538.8 426.0L538.8 427.0L538.7 428.0L538.7 429.0L538.7 430.0L538.7 431.0L538.7 432.0L538.7 433.0L538.7 434.0L538.7 435.0L538.7 436.0L538.7 437.0L538.7 438.0L538.7 439.0L538.7 440.0L538.7 441.0L538.7 442.0L538.7 443.0L538.7 444.0L538.7 445.0L538.7 446.0L538.7 447.0L538.7 448.0L538.7 449.0L538.7 450.0L538.7 451.0L538.7 452.0L538.7 453.0L538.7 454.0L538.7 455.0L538.7 456.0L538.7 457.0L538.7 458.0L538.7 459.0L538.7 460.0L538.7 461.0L538.7 462.0L538.7 463.0L538.6 464.0L538.6 465.0L538.6 466.0L538.6 467.0L538.6 468.0L538.6 469.0L538.6 470.0L538.6 471.0L538.6 472.0L538.6 473.0L538.6 474.0L538.6 475.0L538.6 476.0L538.6 477.0L538.6 478.0L538.6 479.0L538.6 480.0L538.6 481.0L538.6 482.0L538.6 483.0L538.6 484.0L538.6 485.0L538.6 486.0L538.6 487.0L538.6 488.0L538.6 489.0L538.6 490.0L538.6 491.0L538.6 492.0L538.6 493.0L538.6 494.0L538.5 495.0L538.5 496.0L538.5 497.0L538.5 498.0L538.5 499.0L538.5 500.0L538.5 501.0L538.5 502.0L538.5 503.0L538.5 504.0L538.5 505.0L538.5 506.0L538.4 507.0L538.4 508.0L538.4 509.0L538.4 510.0L538.4 511.0L538.4 512.0L538.4 513.0L538.4 514.0L538.4 515.0L538.4 516.0L538.4 517.0L538.3 518.0L538.3 519.0L538.3 520.0L538.3 521.0L538.3 522.0L538.3 523.0L538.3 524.0L538.3 525.0L538.3 526.0L538.2 527.0L538.2 528.0L538.2 529.0L538.2 530.0L538.2 531.0L538.2 532.0L538.2 533.0L538.2 534.0L538.1 535.0L538.1 536.0L538.1 537.0L538.1 538.0L538.1 539.0L538.1 540.0L538.1 541.0L538.1 542.0L538.0 543.0L538.0 544.0L538.0 545.0L538.0 546.0L538.0 547.0L538.0 548.0L538.0 549.0L537.9 550.0L537.9 551.0L537.9 552.0L537.9 553.0L537.9 554.0L537.9 555.0L537.9 556.0L537.8 557.0L537.8 558.0L537.8 559.0L537.8 560.0L537.8 561.0L537.8 562.0L537.8 563.0L537.7 564.0L537.7 565.0L537.7 566.0L537.7 567.0L537.7 568.0L537.7 569.0L537.7 570.0L537.6 571.0L537.6 572.0L537.6 573.0L537.6 574.0L537.6 575.0L537.6 576.0L537.6 577.0L537.5 578.0L537.5 579.0L537.5 580.0L537.5 581.0L537.5 582.0L537.5 583.0L537.4 584.0L537.4 585.0L537.4 586.0L537.4 587.0L537.4 588.0L537.4 589.0L537.3 590.0L537.3 591.0L537.3 592.0L537.3 593.0L537.3 594.0L537.3 595.0L537.3 596.0L537.2 597.0L537.2 598.0L537.2 599.0L537.2 600.0L537.2 601.0L537.1 602.0L537.1 603.0L537.1 604.0L537.1 605.0L537.1 606.0L537.1 607.0L537.0 608.0L537.0 609.0L537.0 610.0L537.0 611.0L537.0 612.0L537.0 613.0L536.9 614.0L536.9 615.0L536.9 616.0L536.9 616.0Z" fill="#000000" fill-opacity="0.4"/>
<path d="M617.3 72.0L619.3 72.0L619.4 73.0L619.6 74.0L619.7 75.0L619.9 76.0L620.0 77.0L620.2 78.0L620.3 79.0L620.5 80.0L620.7 81.0L620.8 82.0L621.0 83.0L621.2 84.0L621.3 85.0L621.5 86.0L621.7 87.0L621.9 88.0L622.1 89.0L622.3 90.0L622.5 91.0L622.7 92.0L622.9 93.0L623.1 94.0L623.4 95.0L623.6 96.0L623.8 97.0L624.0 98.0L624.2 99.0L624.3 100.0L624.5 101.0L624.7 102.0L624.9 103.0L625.1 104.0L625.3 105.0L625.5 106.0L625.7 107.0L625.9 108.0L626.1 109.0L626.3 110.0L626.5 111.0L626.7 112.0L626.9 113.0L627.1 114.0L627.3 115.0L627.5 116.0L627.7 117.0L627.9 118.0L628.1 119.0L628.3 120.0L628.5 121.0L628.7 122.0L628.9 123.0L629.1 124.0L629.3 125.0L629.5 126.0L629.7 127.0L629.9 128.0L630.1 129.0L630.3 130.0L630.5 131.0L630.7 132.0L630.9 133.0L631.1 134.0L631.3 135.0L631.5 136.0L631.7 137.0L631.9 138.0L632.1 139.0L632.3 140.0L632.5 141.0L632.7 142.0L632.9 143.0L633.1 144.0L633.3 145.0L633.5 146.0L633.7 147.0L633.9 148.0L634.2 149.0L634.4 150.0L634.6 151.0L634.8 152.0L635.0 153.0L635.2 154.0L635.4 155.0L635.6 156.0L635.8 157.0L636.0 158.0L636.3 159.0L636.5 160.0L636.7 161.0L636.9 162.0L637.1 163.0L637.3 164.0L637.5 165.0L637.7 166.0L638.0 167.0L638.2 168.0L638.4 169.0L638.6 170.0L638.8 171.0L639.0 172.0L639.2 173.0L639.4 174.0L639.6 175.0L639.8 176.0L640.0 177.0L640.2 178.0L640.4 179.0L640.6 180.0L640.8 181.0L641.0 182.0L641.1 183.0L641.3 184.0L641.4 185.0L641.6 186.0L641.7 187.0L641.9 188.0L642.0 189.0L642.1 190.0L642.3 191.0L642.4 192.0L642.5 193.0L642.6 194.0L642.7 195.0L642.8 196.0L643.0 197.0L643.1 198.0L643.2 199.0L643.3 200.0L643.4 201.0L643.5 202.0L643.6 203.0L643.7 204.0L643.8 205.0L643.9 206.0L644.0 207.0L644.0 208.0L644.1 209.0L644.2 210.0L644.2 211.0L644.2 212.0L644.3 213.0L644.3 214.0L644.4 215.0L644.4 216.0L644.4 217.0L644.5 218.0L644.5 219.0L644.5 220.0L644.5 221.0L644.5 222.0L644.5 223.0L644.5 224.0L644.5 225.0L644.5 226.0L644.5 227.0L644.4 228.0L644.4 229.0L644.4 230.0L644.4 231.0L644.3 232.0L644.3 233.0L644.3 234.0L644.2 235.0L644.2 236.0L644.1 237.0L644.0 238.0L643.9 239.0L643.7 240.0L643.6 241.0L643.5 242.0L643.3 243.0L643.2 244.0L643.0 245.0L642.9 246.0L642.7 247.0L642.6 248.0L642.4 249.0L642.3 250.0L642.1 251.0L641.9 252.0L641.7 253.0L641.5 254.0L641.3 255.0L641.1 256.0L640.9 257.0L640.7 258.0L640.5 259.0L640.3 260.0L640.1 261.0L639.9 262.0L639.7 263.0L639.4 264.0L639.2 265.0L639.0 266.0L638.8 267.0L638.6 268.0L638.3 269.0L638.1 270.0L637.9 271.0L637.7 272.0L637.5 273.0L637.2 274.0L637.0 275.0L636.8 276.0L636.6 277.0L636.3 278.0L636.1 279.0L635.9 280.0L635.7 281.0L635.5 282.0L635.3 283.0L635.1 284.0L634.9 285.0L634.7 286.0L634.5 287.0L634.3 288.0L634.1 289.0L633.9 290.0L633.7 291.0L633.6 292.0L633.4 293.0L633.2 294.0L633.1 295.0L632.9 296.0L632.7 297.0L632.6 298.0L632.4 299.0L632.3 300.0L632.1 301.0L632.0 302.0L631.8 303.0L631.7 304.0L631.5 305.0L631.4 306.0L631.2 307.0L631.1 308.0L631.0 309.0L630.9 310.0L630.7 311.0L630.6 312.0L630.5 313.0L630.4 314.0L630.3 315.0L630.2 316.0L630.1 317.0L630.0 318.0L629.8 319.0L629.7 320.0L629.6 321.0L629.5 322.0L629.4 323.0L629.2 324.0L629.1 325.0L629.0 326.0L628.8 327.0L628.7 328.0L628.5 329.0L628.4 330.0L628.3 331.0L628.2 332.0L628.0 333.0L627.9 334.0L627.8 335.0L627.8 336.0L627.7 337.0L627.6 338.0L627.5 339.0L627.4 340.0L627.4 341.0L627.3 342.0L627.2 343.0L627.2 344.0L627.2 345.0L627.1 346.0L627.1 347.0L627.1 348.0L627.1 349.0L627.1 350.0L627.0 351.0L627.0 352.0L627.0 353.0L627.0 354.0L627.0 355.0L627.0 356.0L627.0 357.0L627.0 358.0L627.0 359.0L627.0 360.0L627.0 361.0L627.0 362.0L627.0 363.0L627.0 364.0L627.0 365.0L627.0 366.0L627.0 367.0L627.0 368.0L627.0 369.0L627.0 370.0L627.0 371.0L627.0 372.0L627.0 373.0L627.0 374.0L627.0 375.0L626.9 376.0L626.9 377.0L626.9 378.0L626.9 379.0L626.8 380.0L626.8 381.0L626.8 382.0L626.7 383.0L626.7 384.0L626.7 385.0L626.6 386.0L626.6 387.0L626.5 388.0L626.4 389.0L626.4 390.0L626.3 391.0L626.2 392.0L626.1 393.0L626.1 394.0L626.0 395.0L625.9 396.0L625.9 397.0L625.8 398.0L625.7 399.0L625.7 400.0L625.6 401.0L625.5 402.0L625.5 403.0L625.4 404.0L625.3 405.0L625.3 406.0L625.2 407.0L625.2 408.0L625.1 409.0L625.0 410.0L625.0 411.0L624.9 412.0L624.9 413.0L624.8 414.0L624.8 415.0L624.8 416.0L624.7 417.0L624.7 418.0L624.6 419.0L624.6 420.0L624.5 421.0L624.5 422.0L624.4 423.0L624.4 424.0L624.3 425.0L624.3 426.0L624.2 427.0L624.1 428.0L624.1 429.0L624.0 430.0L624.0 431.0L623.9 432.0L623.9 433.0L623.8 434.0L623.7 435.0L623.7 436.0L623.6 437.0L623.5 438.0L623.5 439.0L623.4 440.0L623.3 441.0L623.3 442.0L623.2 443.0L623.1 444.0L623.1 445.0L623.0 446.0L622.9 447.0L622.9 448.0L622.8 449.0L622.7 450.0L622.7 451.0L622.6 452.0L622.6 453.0L622.5 454.0L622.4 455.0L622.4 456.0L622.3 457.0L622.2 458.0L622.2 459.0L622.1 460.0L622.0 461.0L621.9 462.0L621.9 463.0L621.8 464.0L621.7 465.0L621.6 466.0L621.5 467.0L621.4 468.0L621.3 469.0L621.3 470.0L621.2 471.0L621.1 472.0L621.0 473.0L620.9 474.0L620.9 475.0L620.8 476.0L620.7 477.0L620.6 478.0L620.5 479.0L620.5 480.0L620.4 481.0L620.3 482.0L620.2 483.0L620.2 484.0L620.1 485.0L620.0 486.0L620.0 487.0L619.9 488.0L619.8 489.0L619.8 490.0L619.7 491.0L619.6 492.0L619.6 493.0L619.5 494.0L619.4 495.0L619.4 496.0L619.3 497.0L619.2 498.0L619.2 499.0L619.1 500.0L619.1 501.0L619.0 502.0L619.0 503.0L618.9 504.0L618.8 505.0L618.8 506.0L618.7 507.0L618.7 508.0L618.6 509.0L618.6 510.0L618.6 511.0L618.5 512.0L618.5 513.0L618.4 514.0L618.4 515.0L618.3 516.0L618.3 517.0L618.3 518.0L618.2 519.0L618.2 520.0L618.1 521.0L618.1 522.0L618.1 523.0L618.0 524.0L618.0 525.0L617.9 526.0L617.9 527.0L617.9 528.0L617.8 529.0L617.8 530.0L617.8 531.0L617.7 532.0L617.7 533.0L617.7 534.0L617.6 535.0L617.6 536.0L617.6 537.0L617.5 538.0L617.5 539.0L617.5 540.0L617.5 541.0L617.4 542.0L617.4 543.0L617.4 544.0L617.4 545.0L617.3 546.0L617.3 547.0L617.3 548.0L617.3 548.0Z" fill="#E69F00" fill-opacity="0.4"/>
<rect x="171.1" y="168.5" width="9.2" height="85.1" fill="#000000" fill-opacity="0.60"/>
<rect x="252.9" y="155.9" width="9.2" height="96.6" fill="#E69F00" fill-opacity="0.60"/>
<rect x="351.8" y="162.9" width="9.2" height="129.8" fill="#000000" fill-opacity="0.60"/>
<rect x="432.5" y="190.9" width="9.2" height="119.8" fill="#E69F00" fill-opacity="0.60"/>
<rect x="532.0" y="176.0" width="9.2" height="109.7" fill="#000000" fill-opacity="0.60"/>
<rect x="613.0" y="190.9" width="9.2" height="111.5" fill="#E69F00" fill-opacity="0.60"/>
<g fill="#000" fill-opacity="0.30">
<circle cx="168.4" cy="105.4" r="4.70"/>
<circle cx="174.1" cy="103.2" r="4.70"/>
<circle cx="169.7" cy="116.4" r="4.70"/>
<circle cx="184.2" cy="116.4" r="4.70"/>
<circle cx="183.3" cy="120.3" r="4.70"/>
<circle cx="179.3" cy="124.2" r="4.70"/>
<circle cx="182.9" cy="127.8" r="4.70"/>
<circle cx="169.7" cy="140.1" r="4.70"/>
<circle cx="167.5" cy="142.7" r="4.70"/>
<circle cx="166.6" cy="145.4" r="4.70"/>
<circle cx="171.5" cy="140.1" r="4.70"/>
<circle cx="168.5" cy="141.5" r="4.70"/>
<circle cx="169.5" cy="158.5" r="4.70"/>
<circle cx="172.5" cy="160.5" r="4.70"/>
<circle cx="182.5" cy="140.1" r="4.70"/>
<circle cx="182.9" cy="144.5" r="4.70"/>
<circle cx="170.6" cy="157.7" r="4.70"/>
<circle cx="180.3" cy="156.8" r="4.70"/>
<circle cx="183.8" cy="155.5" r="4.70"/>
<circle cx="181.1" cy="159.4" r="4.70"/>
<circle cx="176.0" cy="158.5" r="4.70"/>
<circle cx="172.9" cy="175.5" r="4.70"/>
<circle cx="179.0" cy="169.5" r="4.70"/>
<circle cx="176.9" cy="191.8" r="4.70"/>
<circle cx="167.9" cy="202.6" r="4.70"/>
<circle cx="167.5" cy="197.0" r="4.70"/>
<circle cx="168.1" cy="170.9" r="4.70"/>
<circle cx="174.8" cy="226.8" r="4.70"/>
<circle cx="169.1" cy="181.0" r="4.70"/>
<circle cx="178.6" cy="236.0" r="4.70"/>
<circle cx="177.6" cy="194.1" r="4.70"/>
<circle cx="185.2" cy="167.5" r="4.70"/>
<circle cx="182.9" cy="186.0" r="4.70"/>
<circle cx="169.5" cy="173.0" r="4.70"/>
<circle cx="172.6" cy="226.0" r="4.70"/>
<circle cx="170.2" cy="208.2" r="4.70"/>
<circle cx="178.8" cy="192.3" r="4.70"/>
<circle cx="177.1" cy="168.8" r="4.70"/>
<circle cx="167.9" cy="179.7" r="4.70"/>
<circle cx="179.6" cy="196.5" r="4.70"/>
<circle cx="172.7" cy="208.5" r="4.70"/>
<circle cx="175.3" cy="186.8" r="4.70"/>
<circle cx="181.7" cy="217.1" r="4.70"/>
<circle cx="171.4" cy="207.7" r="4.70"/>
<circle cx="176.7" cy="230.5" r="4.70"/>
<circle cx="180.5" cy="185.9" r="4.70"/>
<circle cx="185.2" cy="173.0" r="4.70"/>
<circle cx="174.7" cy="221.5" r="4.70"/>
<circle cx="169.7" cy="201.2" r="4.70"/>
<circle cx="167.5" cy="214.8" r="4.70"/>
<circle cx="181.2" cy="207.5" r="4.70"/>
<circle cx="183.3" cy="187.8" r="4.70"/>
<circle cx="179.9" cy="209.2" r="4.70"/>
<circle cx="177.7" cy="198.7" r="4.70"/>
<circle cx="182.6" cy="235.8" r="4.70"/>
<circle cx="175.7" cy="214.5" r="4.70"/>
<circle cx="167.9" cy="217.3" r="4.70"/>
<circle cx="179.0" cy="239.5" r="4.70"/>
<circle cx="182.3" cy="185.6" r="4.70"/>
<circle cx="174.8" cy="228.4" r="4.70"/>
<circle cx="171.7" cy="224.2" r="4.70"/>
<circle cx="172.9" cy="217.3" r="4.70"/>
<circle cx="167.1" cy="243.5" r="4.70"/>
<circle cx="167.5" cy="248.8" r="4.70"/>
<circle cx="184.7" cy="241.8" r="4.70"/>
<circle cx="175.0" cy="258.5" r="4.70"/>
<circle cx="176.0" cy="259.5" r="4.70"/>
<circle cx="169.3" cy="267.2" r="4.70"/>
<circle cx="169.3" cy="271.2" r="4.70"/>
<circle cx="168.0" cy="273.4" r="4.70"/>
<circle cx="183.3" cy="267.2" r="4.70"/>
<circle cx="183.8" cy="270.8" r="4.70"/>
<circle cx="184.7" cy="274.3" r="4.70"/>
<circle cx="183.3" cy="277.8" r="4.70"/>
<circle cx="174.6" cy="283.1" r="4.70"/>
<circle cx="182.0" cy="281.3" r="4.70"/>
<circle cx="186.0" cy="286.6" r="4.70"/>
<circle cx="182.9" cy="290.1" r="4.70"/>
<circle cx="181.6" cy="293.6" r="4.70"/>
<circle cx="176.8" cy="297.1" r="4.70"/>
<circle cx="178.5" cy="300.6" r="4.70"/>
<circle cx="180.7" cy="304.1" r="4.70"/>
<circle cx="174.1" cy="309.4" r="4.70"/>
<circle cx="182.9" cy="312.9" r="4.70"/>
<circle cx="172.4" cy="314.7" r="4.70"/>
<circle cx="175.0" cy="245.0" r="4.70"/>
<circle cx="178.0" cy="249.0" r="4.70"/>
<circle cx="173.0" cy="251.0" r="4.70"/>
<circle cx="167.5" cy="319.4" r="4.70"/>
<circle cx="171.5" cy="317.6" r="4.70"/>
<circle cx="182.9" cy="316.8" r="4.70"/>
<circle cx="186.4" cy="315.9" r="4.70"/>
<circle cx="168.4" cy="345.8" r="4.70"/>
<circle cx="180.3" cy="344.9" r="4.70"/>
<circle cx="169.6" cy="372.6" r="4.70"/>
<circle cx="183.8" cy="380.0" r="4.70"/>
</g>
<g fill="#000" fill-opacity="0.30">
<circle cx="252.5" cy="99.7" r="4.70"/>
<circle cx="249.0" cy="104.5" r="4.70"/>
<circle cx="251.2" cy="101.4" r="4.70"/>
<circle cx="256.9" cy="102.7" r="4.70"/>
<circle cx="262.6" cy="105.4" r="4.70"/>
<circle cx="259.5" cy="103.2" r="4.70"/>
<circle cx="251.6" cy="132.2" r="4.70"/>
<circle cx="265.2" cy="132.2" r="4.70"/>
<circle cx="247.6" cy="140.1" r="4.70"/>
<circle cx="249.8" cy="142.7" r="4.70"/>
<circle cx="248.1" cy="149.8" r="4.70"/>
<circle cx="253.4" cy="139.2" r="4.70"/>
<circle cx="254.2" cy="144.5" r="4.70"/>
<circle cx="253.4" cy="149.8" r="4.70"/>
<circle cx="261.3" cy="137.5" r="4.70"/>
<circle cx="263.9" cy="141.8" r="4.70"/>
<circle cx="266.5" cy="145.4" r="4.70"/>
<circle cx="262.1" cy="147.1" r="4.70"/>
<circle cx="259.5" cy="142.7" r="4.70"/>
<circle cx="257.8" cy="150.6" r="4.70"/>
<circle cx="263.9" cy="139.2" r="4.70"/>
<circle cx="250.5" cy="146.0" r="4.70"/>
<circle cx="256.0" cy="138.0" r="4.70"/>
<circle cx="255.5" cy="147.5" r="4.70"/>
<circle cx="260.5" cy="151.0" r="4.70"/>
<circle cx="252.0" cy="152.0" r="4.70"/>
<circle cx="263.0" cy="143.5" r="4.70"/>
<circle cx="264.5" cy="147.0" r="4.70"/>
<circle cx="261.5" cy="140.5" r="4.70"/>
<circle cx="248.1" cy="160.3" r="4.70"/>
<circle cx="266.5" cy="160.3" r="4.70"/>
<circle cx="249.0" cy="167.6" r="4.70"/>
<circle cx="249.8" cy="176.4" r="4.70"/>
<circle cx="250.7" cy="188.7" r="4.70"/>
<circle cx="248.1" cy="197.5" r="4.70"/>
<circle cx="249.4" cy="201.9" r="4.70"/>
<circle cx="247.2" cy="206.3" r="4.70"/>
<circle cx="250.3" cy="236.2" r="4.70"/>
<circle cx="265.7" cy="166.8" r="4.70"/>
<circle cx="265.7" cy="173.8" r="4.70"/>
<circle cx="265.7" cy="181.7" r="4.70"/>
<circle cx="264.8" cy="186.1" r="4.70"/>
<circle cx="265.7" cy="190.5" r="4.70"/>
<circle cx="267.4" cy="194.0" r="4.70"/>
<circle cx="265.7" cy="200.1" r="4.70"/>
<circle cx="265.7" cy="203.6" r="4.70"/>
<circle cx="264.8" cy="228.3" r="4.70"/>
<circle cx="263.9" cy="237.9" r="4.70"/>
<circle cx="264.0" cy="178.0" r="4.70"/>
<circle cx="266.0" cy="197.0" r="4.70"/>
<circle cx="254.7" cy="230.2" r="4.70"/>
<circle cx="255.1" cy="181.3" r="4.70"/>
<circle cx="256.8" cy="239.9" r="4.70"/>
<circle cx="254.8" cy="200.2" r="4.70"/>
<circle cx="257.8" cy="241.0" r="4.70"/>
<circle cx="259.5" cy="239.2" r="4.70"/>
<circle cx="256.1" cy="197.0" r="4.70"/>
<circle cx="256.6" cy="241.1" r="4.70"/>
<circle cx="260.4" cy="172.2" r="4.70"/>
<circle cx="255.4" cy="179.8" r="4.70"/>
<circle cx="255.8" cy="203.6" r="4.70"/>
<circle cx="258.1" cy="182.7" r="4.70"/>
<circle cx="254.3" cy="197.4" r="4.70"/>
<circle cx="256.7" cy="211.2" r="4.70"/>
<circle cx="260.4" cy="222.9" r="4.70"/>
<circle cx="257.6" cy="216.1" r="4.70"/>
<circle cx="258.6" cy="163.1" r="4.70"/>
<circle cx="260.1" cy="231.3" r="4.70"/>
<circle cx="259.9" cy="233.0" r="4.70"/>
<circle cx="256.8" cy="195.5" r="4.70"/>
<circle cx="255.0" cy="217.6" r="4.70"/>
<circle cx="254.7" cy="164.3" r="4.70"/>
<circle cx="255.6" cy="173.3" r="4.70"/>
<circle cx="256.5" cy="162.9" r="4.70"/>
<circle cx="254.3" cy="172.2" r="4.70"/>
<circle cx="254.9" cy="192.2" r="4.70"/>
<circle cx="254.5" cy="240.2" r="4.70"/>
<circle cx="258.2" cy="172.0" r="4.70"/>
<circle cx="255.9" cy="190.7" r="4.70"/>
<circle cx="256.6" cy="169.5" r="4.70"/>
<circle cx="259.7" cy="251.4" r="4.70"/>
<circle cx="257.3" cy="203.5" r="4.70"/>
<circle cx="254.8" cy="167.6" r="4.70"/>
<circle cx="256.5" cy="182.9" r="4.70"/>
<circle cx="249.8" cy="247.5" r="4.70"/>
<circle cx="263.9" cy="243.5" r="4.70"/>
<circle cx="264.5" cy="244.5" r="4.70"/>
<circle cx="252.5" cy="255.8" r="4.70"/>
<circle cx="253.3" cy="256.6" r="4.70"/>
<circle cx="250.3" cy="260.7" r="4.70"/>
<circle cx="262.1" cy="256.3" r="4.70"/>
<circle cx="248.8" cy="279.7" r="4.70"/>
<circle cx="253.8" cy="290.1" r="4.70"/>
<circle cx="256.9" cy="290.5" r="4.70"/>
<circle cx="260.0" cy="287.9" r="4.70"/>
<circle cx="262.1" cy="291.0" r="4.70"/>
<circle cx="265.7" cy="290.5" r="4.70"/>
<circle cx="263.9" cy="292.7" r="4.70"/>
<circle cx="261.3" cy="298.0" r="4.70"/>
<circle cx="260.8" cy="312.9" r="4.70"/>
<circle cx="249.8" cy="314.7" r="4.70"/>
<circle cx="250.6" cy="315.3" r="4.70"/>
<circle cx="249.0" cy="319.0" r="4.70"/>
<circle cx="249.6" cy="319.5" r="4.70"/>
<circle cx="261.3" cy="319.0" r="4.70"/>
<circle cx="261.7" cy="315.9" r="4.70"/>
<circle cx="263.5" cy="358.9" r="4.70"/>
<circle cx="249.7" cy="374.9" r="4.70"/>
<circle cx="264.8" cy="387.9" r="4.70"/>
<circle cx="256.5" cy="394.0" r="4.70"/>
<circle cx="259.0" cy="394.3" r="4.70"/>
<circle cx="251.6" cy="419.3" r="4.70"/>
</g>
<g fill="#000" fill-opacity="0.30">
<circle cx="350.6" cy="99.8" r="4.70"/>
<circle cx="351.5" cy="100.1" r="4.70"/>
<circle cx="347.5" cy="113.0" r="4.70"/>
<circle cx="353.2" cy="119.9" r="4.70"/>
<circle cx="358.5" cy="116.4" r="4.70"/>
<circle cx="348.4" cy="132.2" r="4.70"/>
<circle cx="365.1" cy="129.5" r="4.70"/>
<circle cx="352.4" cy="135.7" r="4.70"/>
<circle cx="361.1" cy="135.7" r="4.70"/>
<circle cx="362.9" cy="139.2" r="4.70"/>
<circle cx="365.5" cy="141.8" r="4.70"/>
<circle cx="364.7" cy="146.2" r="4.70"/>
<circle cx="353.2" cy="140.0" r="4.70"/>
<circle cx="348.0" cy="155.9" r="4.70"/>
<circle cx="348.8" cy="159.4" r="4.70"/>
<circle cx="358.5" cy="153.3" r="4.70"/>
<circle cx="359.4" cy="156.8" r="4.70"/>
<circle cx="364.7" cy="160.3" r="4.70"/>
<circle cx="361.1" cy="162.9" r="4.70"/>
<circle cx="356.8" cy="151.5" r="4.70"/>
<circle cx="348.0" cy="172.9" r="4.70"/>
<circle cx="365.5" cy="165.9" r="4.70"/>
<circle cx="362.9" cy="169.4" r="4.70"/>
<circle cx="346.7" cy="185.2" r="4.70"/>
<circle cx="347.1" cy="188.7" r="4.70"/>
<circle cx="347.8" cy="189.2" r="4.70"/>
<circle cx="346.2" cy="192.2" r="4.70"/>
<circle cx="365.5" cy="196.6" r="4.70"/>
<circle cx="347.5" cy="203.7" r="4.70"/>
<circle cx="351.5" cy="201.9" r="4.70"/>
<circle cx="366.0" cy="204.5" r="4.70"/>
<circle cx="363.8" cy="200.1" r="4.70"/>
<circle cx="349.3" cy="216.8" r="4.70"/>
<circle cx="350.0" cy="217.5" r="4.70"/>
<circle cx="363.8" cy="216.0" r="4.70"/>
<circle cx="348.4" cy="224.8" r="4.70"/>
<circle cx="361.1" cy="225.6" r="4.70"/>
<circle cx="350.2" cy="231.8" r="4.70"/>
<circle cx="359.5" cy="184.7" r="4.70"/>
<circle cx="352.2" cy="285.7" r="4.70"/>
<circle cx="356.8" cy="182.8" r="4.70"/>
<circle cx="356.9" cy="167.5" r="4.70"/>
<circle cx="356.8" cy="289.2" r="4.70"/>
<circle cx="359.8" cy="253.1" r="4.70"/>
<circle cx="354.4" cy="210.9" r="4.70"/>
<circle cx="353.5" cy="262.8" r="4.70"/>
<circle cx="356.8" cy="263.7" r="4.70"/>
<circle cx="355.0" cy="192.5" r="4.70"/>
<circle cx="359.3" cy="290.1" r="4.70"/>
<circle cx="359.7" cy="267.2" r="4.70"/>
<circle cx="359.4" cy="258.7" r="4.70"/>
<circle cx="354.0" cy="230.3" r="4.70"/>
<circle cx="355.2" cy="167.7" r="4.70"/>
<circle cx="352.3" cy="199.8" r="4.70"/>
<circle cx="354.3" cy="252.6" r="4.70"/>
<circle cx="360.6" cy="221.2" r="4.70"/>
<circle cx="360.4" cy="290.5" r="4.70"/>
<circle cx="360.6" cy="210.7" r="4.70"/>
<circle cx="354.0" cy="193.0" r="4.70"/>
<circle cx="353.8" cy="190.2" r="4.70"/>
<circle cx="357.6" cy="279.2" r="4.70"/>
<circle cx="359.6" cy="225.4" r="4.70"/>
<circle cx="357.9" cy="266.4" r="4.70"/>
<circle cx="352.8" cy="248.6" r="4.70"/>
<circle cx="360.2" cy="264.1" r="4.70"/>
<circle cx="358.8" cy="225.2" r="4.70"/>
<circle cx="353.6" cy="265.0" r="4.70"/>
<circle cx="355.0" cy="266.5" r="4.70"/>
<circle cx="360.7" cy="214.7" r="4.70"/>
<circle cx="355.6" cy="285.2" r="4.70"/>
<circle cx="358.5" cy="185.8" r="4.70"/>
<circle cx="353.1" cy="183.3" r="4.70"/>
<circle cx="360.1" cy="267.2" r="4.70"/>
<circle cx="353.3" cy="269.8" r="4.70"/>
<circle cx="360.8" cy="248.1" r="4.70"/>
<circle cx="355.2" cy="234.2" r="4.70"/>
<circle cx="363.8" cy="246.2" r="4.70"/>
<circle cx="364.4" cy="247.0" r="4.70"/>
<circle cx="362.9" cy="256.7" r="4.70"/>
<circle cx="347.5" cy="261.5" r="4.70"/>
<circle cx="352.4" cy="262.8" r="4.70"/>
<circle cx="353.0" cy="263.5" r="4.70"/>
<circle cx="364.7" cy="262.4" r="4.70"/>
<circle cx="355.0" cy="261.0" r="4.70"/>
<circle cx="348.8" cy="276.9" r="4.70"/>
<circle cx="346.7" cy="286.6" r="4.70"/>
<circle cx="348.8" cy="291.0" r="4.70"/>
<circle cx="349.5" cy="291.8" r="4.70"/>
<circle cx="349.7" cy="294.5" r="4.70"/>
<circle cx="350.3" cy="295.2" r="4.70"/>
<circle cx="347.1" cy="292.7" r="4.70"/>
<circle cx="361.1" cy="285.7" r="4.70"/>
<circle cx="360.3" cy="292.7" r="4.70"/>
<circle cx="356.8" cy="287.5" r="4.70"/>
<circle cx="349.7" cy="300.6" r="4.70"/>
<circle cx="347.3" cy="314.5" r="4.70"/>
<circle cx="352.4" cy="333.9" r="4.70"/>
<circle cx="362.9" cy="332.1" r="4.70"/>
<circle cx="363.3" cy="335.2" r="4.70"/>
<circle cx="363.9" cy="335.8" r="4.70"/>
<circle cx="361.1" cy="337.0" r="4.70"/>
<circle cx="363.8" cy="340.5" r="4.70"/>
<circle cx="360.3" cy="341.4" r="4.70"/>
<circle cx="347.1" cy="341.4" r="4.70"/>
<circle cx="350.6" cy="343.6" r="4.70"/>
<circle cx="351.2" cy="344.2" r="4.70"/>
<circle cx="353.2" cy="344.0" r="4.70"/>
<circle cx="362.9" cy="354.1" r="4.70"/>
<circle cx="348.0" cy="356.3" r="4.70"/>
<circle cx="348.0" cy="363.3" r="4.70"/>
<circle cx="362.0" cy="365.5" r="4.70"/>
<circle cx="356.3" cy="370.4" r="4.70"/>
<circle cx="349.0" cy="465.0" r="4.70"/>
<circle cx="363.7" cy="489.3" r="4.70"/>
<circle cx="356.7" cy="518.3" r="4.70"/>
</g>
<g fill="#000" fill-opacity="0.30">
<circle cx="446.1" cy="99.7" r="4.70"/>
<circle cx="445.7" cy="106.7" r="4.70"/>
<circle cx="432.5" cy="112.4" r="4.70"/>
<circle cx="444.3" cy="115.5" r="4.70"/>
<circle cx="442.1" cy="119.0" r="4.70"/>
<circle cx="438.6" cy="125.1" r="4.70"/>
<circle cx="440.8" cy="123.0" r="4.70"/>
<circle cx="445.7" cy="139.2" r="4.70"/>
<circle cx="433.4" cy="148.0" r="4.70"/>
<circle cx="430.3" cy="150.6" r="4.70"/>
<circle cx="443.0" cy="150.6" r="4.70"/>
<circle cx="430.3" cy="159.4" r="4.70"/>
<circle cx="430.9" cy="160.0" r="4.70"/>
<circle cx="429.8" cy="158.8" r="4.70"/>
<circle cx="443.0" cy="162.0" r="4.70"/>
<circle cx="431.2" cy="168.5" r="4.70"/>
<circle cx="431.8" cy="169.0" r="4.70"/>
<circle cx="428.1" cy="169.4" r="4.70"/>
<circle cx="443.9" cy="169.0" r="4.70"/>
<circle cx="443.0" cy="165.9" r="4.70"/>
<circle cx="434.2" cy="177.3" r="4.70"/>
<circle cx="442.2" cy="184.3" r="4.70"/>
<circle cx="434.2" cy="190.5" r="4.70"/>
<circle cx="434.8" cy="191.0" r="4.70"/>
<circle cx="442.2" cy="188.7" r="4.70"/>
<circle cx="432.5" cy="202.8" r="4.70"/>
<circle cx="431.6" cy="206.3" r="4.70"/>
<circle cx="445.7" cy="202.8" r="4.70"/>
<circle cx="443.9" cy="206.3" r="4.70"/>
<circle cx="445.7" cy="212.5" r="4.70"/>
<circle cx="443.9" cy="216.8" r="4.70"/>
<circle cx="443.0" cy="221.2" r="4.70"/>
<circle cx="429.0" cy="223.0" r="4.70"/>
<circle cx="443.9" cy="225.6" r="4.70"/>
<circle cx="430.3" cy="237.0" r="4.70"/>
<circle cx="434.8" cy="192.4" r="4.70"/>
<circle cx="440.1" cy="211.5" r="4.70"/>
<circle cx="437.3" cy="220.0" r="4.70"/>
<circle cx="436.7" cy="218.2" r="4.70"/>
<circle cx="439.2" cy="198.3" r="4.70"/>
<circle cx="435.6" cy="200.8" r="4.70"/>
<circle cx="435.5" cy="209.6" r="4.70"/>
<circle cx="435.6" cy="204.6" r="4.70"/>
<circle cx="434.8" cy="219.3" r="4.70"/>
<circle cx="436.2" cy="205.7" r="4.70"/>
<circle cx="437.7" cy="219.1" r="4.70"/>
<circle cx="436.6" cy="219.5" r="4.70"/>
<circle cx="437.2" cy="208.0" r="4.70"/>
<circle cx="437.3" cy="192.6" r="4.70"/>
<circle cx="436.8" cy="234.2" r="4.70"/>
<circle cx="434.0" cy="255.2" r="4.70"/>
<circle cx="435.1" cy="244.1" r="4.70"/>
<circle cx="438.6" cy="288.7" r="4.70"/>
<circle cx="436.1" cy="286.9" r="4.70"/>
<circle cx="437.5" cy="299.6" r="4.70"/>
<circle cx="434.7" cy="288.9" r="4.70"/>
<circle cx="435.6" cy="275.3" r="4.70"/>
<circle cx="438.9" cy="286.4" r="4.70"/>
<circle cx="437.5" cy="298.5" r="4.70"/>
<circle cx="439.7" cy="283.3" r="4.70"/>
<circle cx="437.9" cy="286.3" r="4.70"/>
<circle cx="437.2" cy="295.3" r="4.70"/>
<circle cx="436.8" cy="287.6" r="4.70"/>
<circle cx="437.0" cy="307.2" r="4.70"/>
<circle cx="438.4" cy="304.1" r="4.70"/>
<circle cx="439.9" cy="274.5" r="4.70"/>
<circle cx="437.5" cy="307.3" r="4.70"/>
<circle cx="439.3" cy="268.6" r="4.70"/>
<circle cx="428.5" cy="241.8" r="4.70"/>
<circle cx="445.7" cy="251.9" r="4.70"/>
<circle cx="428.5" cy="254.9" r="4.70"/>
<circle cx="443.9" cy="267.2" r="4.70"/>
<circle cx="430.7" cy="269.0" r="4.70"/>
<circle cx="428.1" cy="275.1" r="4.70"/>
<circle cx="428.8" cy="275.8" r="4.70"/>
<circle cx="429.8" cy="277.8" r="4.70"/>
<circle cx="444.8" cy="276.9" r="4.70"/>
<circle cx="430.7" cy="284.8" r="4.70"/>
<circle cx="431.3" cy="285.5" r="4.70"/>
<circle cx="444.8" cy="283.9" r="4.70"/>
<circle cx="445.4" cy="284.5" r="4.70"/>
<circle cx="445.7" cy="287.5" r="4.70"/>
<circle cx="430.7" cy="293.6" r="4.70"/>
<circle cx="428.5" cy="306.3" r="4.70"/>
<circle cx="429.0" cy="310.3" r="4.70"/>
<circle cx="443.9" cy="310.3" r="4.70"/>
<circle cx="428.1" cy="313.8" r="4.70"/>
<circle cx="428.1" cy="320.7" r="4.70"/>
<circle cx="430.3" cy="321.2" r="4.70"/>
<circle cx="430.9" cy="321.8" r="4.70"/>
<circle cx="434.2" cy="320.3" r="4.70"/>
<circle cx="445.7" cy="323.8" r="4.70"/>
<circle cx="439.5" cy="320.3" r="4.70"/>
<circle cx="443.5" cy="331.3" r="4.70"/>
<circle cx="429.0" cy="336.1" r="4.70"/>
<circle cx="440.8" cy="340.9" r="4.70"/>
<circle cx="431.6" cy="342.2" r="4.70"/>
<circle cx="430.7" cy="346.6" r="4.70"/>
<circle cx="431.2" cy="347.2" r="4.70"/>
<circle cx="430.3" cy="348.8" r="4.70"/>
<circle cx="443.0" cy="359.8" r="4.70"/>
<circle cx="440.8" cy="364.2" r="4.70"/>
<circle cx="428.1" cy="382.8" r="4.70"/>
<circle cx="446.1" cy="390.6" r="4.70"/>
<circle cx="434.1" cy="437.4" r="4.70"/>
<circle cx="438.9" cy="483.8" r="4.70"/>
<circle cx="431.7" cy="496.5" r="4.70"/>
<circle cx="432.2" cy="516.3" r="4.70"/>
<circle cx="435.1" cy="530.7" r="4.70"/>
<circle cx="434.4" cy="576.9" r="4.70"/>
</g>
<g fill="#000" fill-opacity="0.30">
<circle cx="537.3" cy="107.1" r="4.70"/>
<circle cx="537.9" cy="107.7" r="4.70"/>
<circle cx="530.7" cy="111.1" r="4.70"/>
<circle cx="543.9" cy="113.7" r="4.70"/>
<circle cx="544.4" cy="114.3" r="4.70"/>
<circle cx="543.9" cy="119.0" r="4.70"/>
<circle cx="543.9" cy="125.1" r="4.70"/>
<circle cx="528.5" cy="133.1" r="4.70"/>
<circle cx="534.7" cy="132.2" r="4.70"/>
<circle cx="543.5" cy="131.3" r="4.70"/>
<circle cx="544.0" cy="131.9" r="4.70"/>
<circle cx="544.8" cy="134.8" r="4.70"/>
<circle cx="545.3" cy="135.3" r="4.70"/>
<circle cx="543.9" cy="138.3" r="4.70"/>
<circle cx="543.0" cy="148.0" r="4.70"/>
<circle cx="536.9" cy="154.1" r="4.70"/>
<circle cx="540.4" cy="153.3" r="4.70"/>
<circle cx="544.8" cy="159.4" r="4.70"/>
<circle cx="545.3" cy="160.0" r="4.70"/>
<circle cx="542.1" cy="162.0" r="4.70"/>
<circle cx="530.3" cy="164.7" r="4.70"/>
<circle cx="529.0" cy="167.6" r="4.70"/>
<circle cx="543.9" cy="166.8" r="4.70"/>
<circle cx="528.1" cy="178.2" r="4.70"/>
<circle cx="543.0" cy="173.8" r="4.70"/>
<circle cx="544.8" cy="184.3" r="4.70"/>
<circle cx="545.3" cy="184.9" r="4.70"/>
<circle cx="545.7" cy="181.7" r="4.70"/>
<circle cx="528.1" cy="183.5" r="4.70"/>
<circle cx="526.8" cy="191.4" r="4.70"/>
<circle cx="527.3" cy="192.0" r="4.70"/>
<circle cx="528.1" cy="194.9" r="4.70"/>
<circle cx="528.6" cy="195.5" r="4.70"/>
<circle cx="526.8" cy="200.1" r="4.70"/>
<circle cx="530.7" cy="205.4" r="4.70"/>
<circle cx="545.7" cy="206.3" r="4.70"/>
<circle cx="527.6" cy="221.2" r="4.70"/>
<circle cx="529.8" cy="223.0" r="4.70"/>
<circle cx="542.1" cy="222.1" r="4.70"/>
<circle cx="545.7" cy="230.0" r="4.70"/>
<circle cx="546.2" cy="230.6" r="4.70"/>
<circle cx="543.9" cy="233.5" r="4.70"/>
<circle cx="527.2" cy="237.0" r="4.70"/>
<circle cx="533.5" cy="224.6" r="4.70"/>
<circle cx="533.1" cy="202.5" r="4.70"/>
<circle cx="533.1" cy="249.6" r="4.70"/>
<circle cx="539.2" cy="274.7" r="4.70"/>
<circle cx="533.8" cy="254.8" r="4.70"/>
<circle cx="538.1" cy="191.7" r="4.70"/>
<circle cx="540.0" cy="282.4" r="4.70"/>
<circle cx="534.4" cy="280.8" r="4.70"/>
<circle cx="535.9" cy="229.6" r="4.70"/>
<circle cx="540.9" cy="267.6" r="4.70"/>
<circle cx="533.9" cy="223.5" r="4.70"/>
<circle cx="536.9" cy="213.3" r="4.70"/>
<circle cx="534.2" cy="211.0" r="4.70"/>
<circle cx="538.6" cy="178.1" r="4.70"/>
<circle cx="537.2" cy="224.5" r="4.70"/>
<circle cx="532.7" cy="212.5" r="4.70"/>
<circle cx="537.8" cy="232.3" r="4.70"/>
<circle cx="533.0" cy="284.4" r="4.70"/>
<circle cx="539.2" cy="282.9" r="4.70"/>
<circle cx="533.4" cy="205.2" r="4.70"/>
<circle cx="532.8" cy="261.7" r="4.70"/>
<circle cx="534.8" cy="190.3" r="4.70"/>
<circle cx="536.1" cy="276.3" r="4.70"/>
<circle cx="539.5" cy="204.4" r="4.70"/>
<circle cx="528.1" cy="240.9" r="4.70"/>
<circle cx="545.7" cy="240.9" r="4.70"/>
<circle cx="543.9" cy="250.5" r="4.70"/>
<circle cx="528.1" cy="254.9" r="4.70"/>
<circle cx="543.0" cy="261.1" r="4.70"/>
<circle cx="528.1" cy="263.7" r="4.70"/>
<circle cx="528.7" cy="264.3" r="4.70"/>
<circle cx="526.8" cy="267.2" r="4.70"/>
<circle cx="527.2" cy="269.0" r="4.70"/>
<circle cx="528.5" cy="274.3" r="4.70"/>
<circle cx="544.8" cy="275.1" r="4.70"/>
<circle cx="545.3" cy="275.7" r="4.70"/>
<circle cx="545.7" cy="278.7" r="4.70"/>
<circle cx="544.8" cy="282.2" r="4.70"/>
<circle cx="537.3" cy="290.5" r="4.70"/>
<circle cx="537.9" cy="291.1" r="4.70"/>
<circle cx="543.9" cy="291.4" r="4.70"/>
<circle cx="533.4" cy="292.7" r="4.70"/>
<circle cx="527.6" cy="301.1" r="4.70"/>
<circle cx="541.3" cy="308.5" r="4.70"/>
<circle cx="533.4" cy="312.0" r="4.70"/>
<circle cx="534.0" cy="312.6" r="4.70"/>
<circle cx="528.1" cy="310.3" r="4.70"/>
<circle cx="539.5" cy="312.9" r="4.70"/>
<circle cx="528.5" cy="321.2" r="4.70"/>
<circle cx="530.7" cy="316.8" r="4.70"/>
<circle cx="531.3" cy="317.4" r="4.70"/>
<circle cx="538.6" cy="323.8" r="4.70"/>
<circle cx="536.9" cy="333.9" r="4.70"/>
<circle cx="532.5" cy="337.0" r="4.70"/>
<circle cx="532.0" cy="349.3" r="4.70"/>
<circle cx="532.5" cy="349.8" r="4.70"/>
<circle cx="543.9" cy="363.2" r="4.70"/>
<circle cx="540.8" cy="380.5" r="4.70"/>
<circle cx="543.9" cy="389.3" r="4.70"/>
<circle cx="541.2" cy="460.0" r="4.70"/>
<circle cx="541.2" cy="498.0" r="4.70"/>
<circle cx="534.2" cy="525.0" r="4.70"/>
</g>
<g fill="#000" fill-opacity="0.30">
<circle cx="613.4" cy="101.9" r="4.70"/>
<circle cx="626.1" cy="111.4" r="4.70"/>
<circle cx="615.1" cy="120.3" r="4.70"/>
<circle cx="617.8" cy="121.6" r="4.70"/>
<circle cx="618.3" cy="122.2" r="4.70"/>
<circle cx="616.9" cy="125.1" r="4.70"/>
<circle cx="612.9" cy="144.0" r="4.70"/>
<circle cx="609.0" cy="150.2" r="4.70"/>
<circle cx="616.0" cy="157.7" r="4.70"/>
<circle cx="616.5" cy="158.3" r="4.70"/>
<circle cx="623.9" cy="158.5" r="4.70"/>
<circle cx="624.4" cy="159.1" r="4.70"/>
<circle cx="627.4" cy="161.2" r="4.70"/>
<circle cx="622.1" cy="160.3" r="4.70"/>
<circle cx="609.8" cy="164.7" r="4.70"/>
<circle cx="609.8" cy="167.6" r="4.70"/>
<circle cx="610.3" cy="168.2" r="4.70"/>
<circle cx="608.1" cy="165.9" r="4.70"/>
<circle cx="614.2" cy="170.3" r="4.70"/>
<circle cx="623.9" cy="166.8" r="4.70"/>
<circle cx="625.7" cy="172.0" r="4.70"/>
<circle cx="621.3" cy="172.9" r="4.70"/>
<circle cx="622.1" cy="179.9" r="4.70"/>
<circle cx="609.8" cy="187.0" r="4.70"/>
<circle cx="610.3" cy="187.6" r="4.70"/>
<circle cx="609.2" cy="186.4" r="4.70"/>
<circle cx="609.0" cy="190.5" r="4.70"/>
<circle cx="622.1" cy="186.1" r="4.70"/>
<circle cx="623.9" cy="190.5" r="4.70"/>
<circle cx="607.6" cy="200.1" r="4.70"/>
<circle cx="612.5" cy="199.3" r="4.70"/>
<circle cx="625.7" cy="198.4" r="4.70"/>
<circle cx="609.8" cy="214.2" r="4.70"/>
<circle cx="610.4" cy="214.8" r="4.70"/>
<circle cx="609.2" cy="213.6" r="4.70"/>
<circle cx="608.1" cy="216.8" r="4.70"/>
<circle cx="610.7" cy="218.6" r="4.70"/>
<circle cx="613.4" cy="214.2" r="4.70"/>
<circle cx="623.9" cy="215.1" r="4.70"/>
<circle cx="610.7" cy="225.6" r="4.70"/>
<circle cx="625.7" cy="224.8" r="4.70"/>
<circle cx="611.6" cy="231.8" r="4.70"/>
<circle cx="624.8" cy="235.3" r="4.70"/>
<circle cx="615.4" cy="210.4" r="4.70"/>
<circle cx="618.0" cy="206.0" r="4.70"/>
<circle cx="615.1" cy="193.2" r="4.70"/>
<circle cx="618.8" cy="200.5" r="4.70"/>
<circle cx="614.9" cy="210.8" r="4.70"/>
<circle cx="618.4" cy="208.0" r="4.70"/>
<circle cx="615.0" cy="209.1" r="4.70"/>
<circle cx="614.9" cy="209.3" r="4.70"/>
<circle cx="617.3" cy="261.0" r="4.70"/>
<circle cx="617.9" cy="297.5" r="4.70"/>
<circle cx="616.2" cy="248.0" r="4.70"/>
<circle cx="617.8" cy="254.8" r="4.70"/>
<circle cx="615.2" cy="250.0" r="4.70"/>
<circle cx="614.8" cy="252.5" r="4.70"/>
<circle cx="616.4" cy="258.9" r="4.70"/>
<circle cx="619.2" cy="258.0" r="4.70"/>
<circle cx="617.6" cy="251.0" r="4.70"/>
<circle cx="616.7" cy="241.1" r="4.70"/>
<circle cx="616.1" cy="241.0" r="4.70"/>
<circle cx="619.0" cy="274.2" r="4.70"/>
<circle cx="615.7" cy="269.4" r="4.70"/>
<circle cx="620.3" cy="246.6" r="4.70"/>
<circle cx="619.6" cy="266.8" r="4.70"/>
<circle cx="617.6" cy="291.7" r="4.70"/>
<circle cx="616.9" cy="223.2" r="4.70"/>
<circle cx="618.8" cy="235.5" r="4.70"/>
<circle cx="616.6" cy="231.6" r="4.70"/>
<circle cx="618.9" cy="226.5" r="4.70"/>
<circle cx="617.0" cy="219.0" r="4.70"/>
<circle cx="614.8" cy="213.4" r="4.70"/>
<circle cx="614.9" cy="229.3" r="4.70"/>
<circle cx="616.1" cy="214.2" r="4.70"/>
<circle cx="615.0" cy="231.9" r="4.70"/>
<circle cx="609.0" cy="247.0" r="4.70"/>
<circle cx="609.6" cy="247.6" r="4.70"/>
<circle cx="607.6" cy="264.6" r="4.70"/>
<circle cx="611.6" cy="266.4" r="4.70"/>
<circle cx="623.9" cy="267.2" r="4.70"/>
<circle cx="624.4" cy="267.8" r="4.70"/>
<circle cx="625.7" cy="275.1" r="4.70"/>
<circle cx="612.5" cy="289.2" r="4.70"/>
<circle cx="626.5" cy="291.4" r="4.70"/>
<circle cx="611.6" cy="300.6" r="4.70"/>
<circle cx="612.2" cy="301.2" r="4.70"/>
<circle cx="610.7" cy="305.0" r="4.70"/>
<circle cx="611.3" cy="305.6" r="4.70"/>
<circle cx="609.0" cy="308.5" r="4.70"/>
<circle cx="625.7" cy="309.4" r="4.70"/>
<circle cx="613.4" cy="331.0" r="4.70"/>
<circle cx="623.0" cy="347.5" r="4.70"/>
<circle cx="623.9" cy="345.8" r="4.70"/>
<circle cx="625.7" cy="345.8" r="4.70"/>
<circle cx="612.9" cy="366.8" r="4.70"/>
<circle cx="610.7" cy="377.8" r="4.70"/>
<circle cx="624.3" cy="373.9" r="4.70"/>
<circle cx="624.8" cy="376.5" r="4.70"/>
<circle cx="625.2" cy="374.5" r="4.70"/>
<circle cx="627.4" cy="380.0" r="4.70"/>
<circle cx="622.1" cy="382.7" r="4.70"/>
<circle cx="623.0" cy="387.9" r="4.70"/>
<circle cx="626.5" cy="388.8" r="4.70"/>
<circle cx="623.0" cy="390.9" r="4.70"/>
<circle cx="609.8" cy="409.8" r="4.70"/>
<circle cx="616.9" cy="424.3" r="4.70"/>
<circle cx="622.1" cy="431.3" r="4.70"/>
<circle cx="623.0" cy="433.9" r="4.70"/>
<circle cx="623.5" cy="434.5" r="4.70"/>
<circle cx="622.1" cy="444.5" r="4.70"/>
<circle cx="620.4" cy="447.1" r="4.70"/>
<circle cx="620.9" cy="447.7" r="4.70"/>
<circle cx="614.7" cy="456.8" r="4.70"/>
</g>
<g stroke="#000" stroke-width="1.8" fill="none">
<line x1="175.95" y1="103.0" x2="175.95" y2="168.5"/>
<line x1="175.95" y1="253.6" x2="175.95" y2="380.9"/>
<rect x="171.10" y="168.5" width="9.2" height="85.1"/>
<line x1="171.10" y1="204.0" x2="180.30" y2="204.0" stroke-width="6.0"/>
</g>
<path d="M166.4 213.9L176.1 204.2L185.8 213.9L176.1 223.6Z" fill="#000000"/>
<g stroke="#000" stroke-width="1.8" fill="none">
<line x1="257.05" y1="100.1" x2="257.05" y2="155.9"/>
<line x1="257.05" y1="252.5" x2="257.05" y2="395.2"/>
<rect x="252.90" y="155.9" width="9.2" height="96.6"/>
<line x1="252.90" y1="202.6" x2="262.10" y2="202.6" stroke-width="6.0"/>
</g>
<path d="M247.6 216.4L257.2 206.7L266.9 216.4L257.2 226.1Z" fill="#E69F00"/>
<g stroke="#000" stroke-width="1.8" fill="none">
<line x1="356.0" y1="100.1" x2="356.0" y2="162.9" stroke-width="1.4"/>
<line x1="356.0" y1="292.7" x2="356.0" y2="465.0" stroke-width="1.4"/>
<line x1="356.0" y1="133.0" x2="356.0" y2="162.9"/>
<line x1="356.0" y1="329.5" x2="356.0" y2="347.5"/>
<rect x="351.80" y="162.9" width="9.2" height="129.8"/>
<line x1="351.80" y1="217.0" x2="361.00" y2="217.0" stroke-width="6.0"/>
</g>
<path d="M346.5 236.8L356.2 227.1L365.9 236.8L356.2 246.5Z" fill="#000000"/>
<g stroke="#000" stroke-width="1.8" fill="none">
<line x1="437.5" y1="100.1" x2="437.5" y2="190.9" stroke-width="1.4"/>
<line x1="437.5" y1="310.7" x2="437.5" y2="483.6" stroke-width="1.4"/>
<line x1="437.5" y1="143.6" x2="437.5" y2="190.9"/>
<rect x="432.50" y="190.9" width="9.2" height="119.8"/>
<line x1="432.50" y1="225.6" x2="441.70" y2="225.6" stroke-width="6.0"/>
</g>
<path d="M428.0 254.9L437.7 245.2L447.4 254.9L437.7 264.6Z" fill="#E69F00"/>
<g stroke="#000" stroke-width="1.8" fill="none">
<line x1="536.90" y1="107.1" x2="536.90" y2="176.0"/>
<line x1="536.90" y1="285.7" x2="536.90" y2="389.0"/>
<rect x="532.00" y="176.0" width="9.2" height="109.7"/>
<line x1="532.00" y1="224.2" x2="541.20" y2="224.2" stroke-width="6.0"/>
</g>
<path d="M527.4 235.0L537.1 225.3L546.8 235.0L537.1 244.7Z" fill="#000000"/>
<g stroke="#000" stroke-width="1.8" fill="none">
<line x1="617.05" y1="101.9" x2="617.05" y2="190.9"/>
<line x1="617.05" y1="302.4" x2="617.05" y2="458.1"/>
<rect x="613.00" y="190.9" width="9.2" height="111.5"/>
<line x1="613.00" y1="236.5" x2="622.20" y2="236.5" stroke-width="6.0"/>
</g>
<path d="M607.5 254.7L617.2 245.0L627.0 254.7L617.2 264.4Z" fill="#E69F00"/>
</g>
<g stroke="#2b2b2b" stroke-width="1.25" fill="none">
<path d="M108.1 71.8V692.8H685" stroke-width="1.65"/>
<line x1="94.8" x2="108.1" y1="664.4" y2="664.4"/>
<line x1="94.8" x2="108.1" y1="551.6" y2="551.6"/>
<line x1="94.8" x2="108.1" y1="438.9" y2="438.9"/>
<line x1="94.8" x2="108.1" y1="326.1" y2="326.1"/>
<line x1="94.8" x2="108.1" y1="213.4" y2="213.4"/>
<line x1="94.8" x2="108.1" y1="100.6" y2="100.6"/>
<line x1="216.3" x2="216.3" y1="692.8" y2="705.7"/>
<line x1="396.8" x2="396.8" y1="692.8" y2="705.7"/>
<line x1="577.2" x2="577.2" y1="692.8" y2="705.7"/>
</g>
<g font-family="DejaVu Sans, Liberation Sans, sans-serif" fill="#111" stroke="#fff" stroke-width="0.2">
<text x="83.0" y="671.0" font-size="20.7" letter-spacing="1.1" text-anchor="end">0</text>
<text x="83.0" y="558.2" font-size="20.7" letter-spacing="1.1" text-anchor="end">100</text>
<text x="83.0" y="445.5" font-size="20.7" letter-spacing="1.1" text-anchor="end">200</text>
<text x="83.0" y="332.7" font-size="20.7" letter-spacing="1.1" text-anchor="end">300</text>
<text x="83.0" y="220.0" font-size="20.7" letter-spacing="1.1" text-anchor="end">400</text>
<text x="83.0" y="107.2" font-size="20.7" letter-spacing="1.1" text-anchor="end">500</text>
<text x="217.3" y="737" font-size="23.3" text-anchor="middle">Non-autistic</text>
<text x="397.5" y="737" font-size="23.3" text-anchor="middle">Autistic</text>
<text x="577.0" y="737" font-size="23.3" text-anchor="middle">Mixed</text>
<text x="396.5" y="776" font-size="23.3" text-anchor="middle">Chain type</text>
<text transform="translate(18.3 381.8) rotate(-90)" font-size="23.3" text-anchor="middle">Rapport score</text>
<text x="195.2" y="838.3" font-size="23.3">Role</text>
<text x="319.2" y="838.3" font-size="23.3">Learner</text>
<text x="523" y="838.3" font-size="23.3">Teacher</text>
</g>
<rect x="263.95" y="809" width="43.1" height="42.7" fill="#000000" fill-opacity="0.4"/>
<rect x="267.90" y="818.65" width="35.2" height="23.4" fill="#000000" fill-opacity="0.60"/>
<g stroke="#000" stroke-width="1.15" fill="none">
<line x1="285.50" x2="285.50" y1="811.8" y2="818.65"/>
<line x1="285.50" x2="285.50" y1="842.05" y2="849.3"/>
<rect x="267.90" y="818.65" width="35.2" height="23.4"/>
<line x1="267.90" x2="303.10" y1="830.3" y2="830.3"/>
</g>
<path d="M276.00 830.3L285.50 820.8L295.00 830.3L285.50 839.8Z" fill="#000000"/>
<rect x="464.85" y="809" width="43.1" height="42.7" fill="#E69F00" fill-opacity="0.4"/>
<rect x="468.80" y="818.65" width="35.2" height="23.4" fill="#E69F00" fill-opacity="0.60"/>
<g stroke="#000" stroke-width="1.15" fill="none">
<line x1="486.40" x2="486.40" y1="811.8" y2="818.65"/>
<line x1="486.40" x2="486.40" y1="842.05" y2="849.3"/>
<rect x="468.80" y="818.65" width="35.2" height="23.4"/>
<line x1="468.80" x2="504.00" y1="830.3" y2="830.3"/>
</g>
<path d="M476.90 830.3L486.40 820.8L495.90 830.3L486.40 839.8Z" fill="#E69F00"/>
</svg>
</body></html>
